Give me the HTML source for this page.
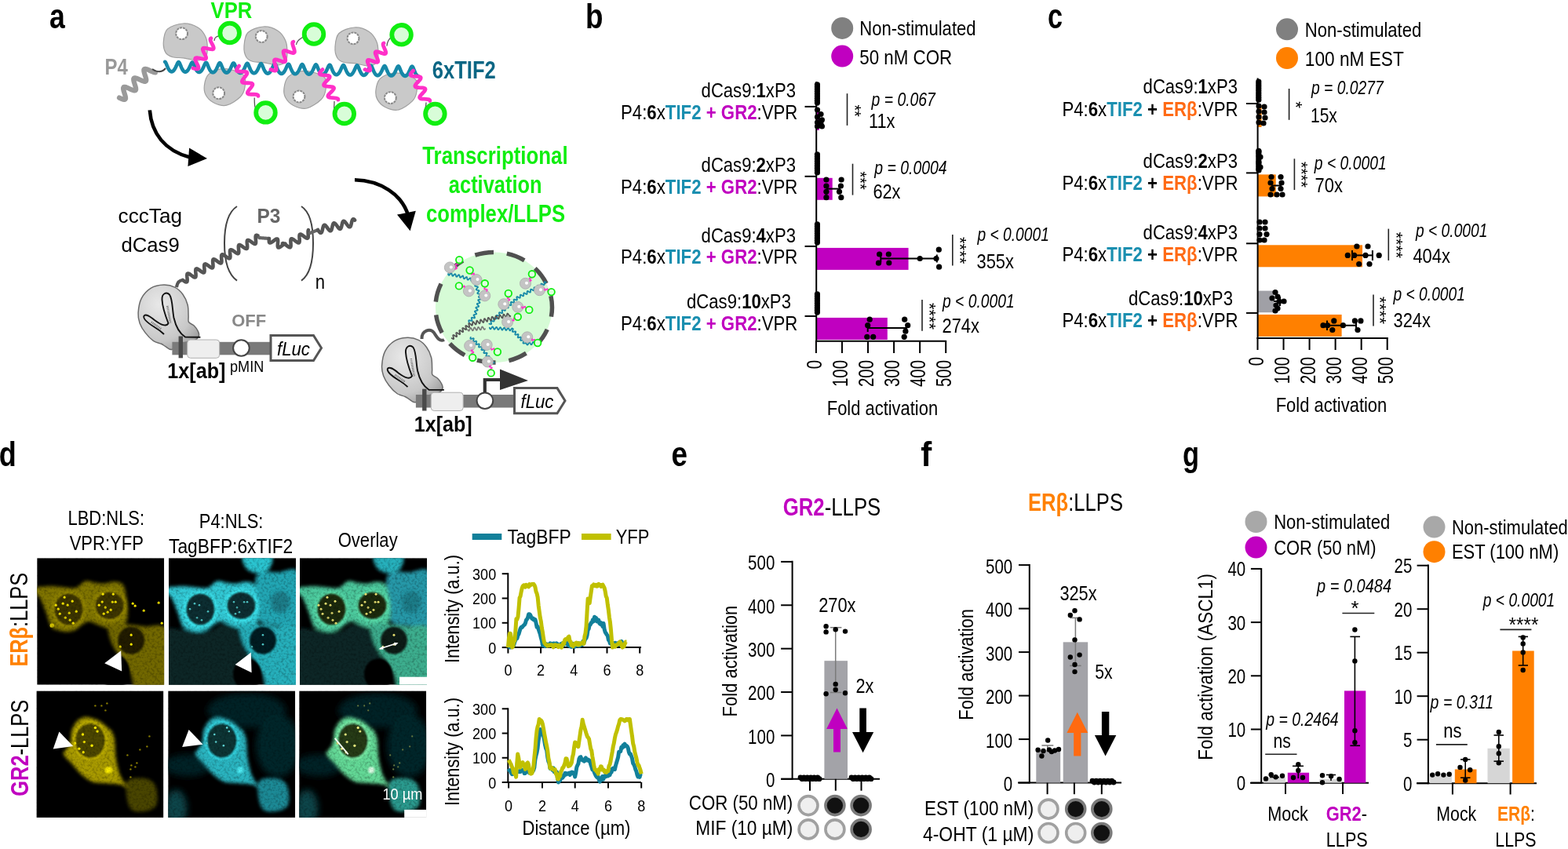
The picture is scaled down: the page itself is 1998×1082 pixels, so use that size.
<!DOCTYPE html>
<html><head><meta charset="utf-8"><title>Figure</title>
<style>
html,body{margin:0;padding:0;background:#fff;width:1998px;height:1082px;overflow:hidden}
svg{display:block;font-family:"Liberation Sans",Arial,sans-serif}
</style></head><body>
<svg width="1998" height="1082" viewBox="0 0 1998 1082">
<defs><filter id="b1" x="-20%" y="-20%" width="140%" height="140%"><feGaussianBlur stdDeviation="1.2"/></filter>
<filter id="b2" x="-20%" y="-20%" width="140%" height="140%"><feGaussianBlur stdDeviation="2.2"/></filter>
<filter id="b3" x="-30%" y="-30%" width="160%" height="160%"><feGaussianBlur stdDeviation="4"/></filter>
<filter id="bd" x="-50%" y="-50%" width="200%" height="200%"><feGaussianBlur stdDeviation="0.6"/></filter>
<filter id="grain" x="0" y="0" width="100%" height="100%"><feTurbulence type="fractalNoise" baseFrequency="0.32" numOctaves="2" seed="7" result="n"/><feColorMatrix in="n" type="matrix" values="0 0 0 0 0  0 0 0 0 0  0 0 0 0 0  2.2 0 0 0 -0.95" result="a"/><feComposite in="SourceGraphic" in2="a" operator="in"/></filter>
<radialGradient id="gblob" cx="0.4" cy="0.35" r="0.75"><stop offset="0" stop-color="#d6d6d6"/><stop offset="0.8" stop-color="#c4c4c4"/><stop offset="1" stop-color="#a8a8a8"/></radialGradient>
<radialGradient id="cas" cx="0.35" cy="0.3" r="0.8"><stop offset="0" stop-color="#e8e8e8"/><stop offset="0.7" stop-color="#c8c8c8"/><stop offset="1" stop-color="#a0a0a0"/></radialGradient></defs>
<rect width="1998" height="1082" fill="#fff"/>
<text transform="translate(746,36.4) scale(0.8371,1)" font-size="44" font-weight="bold">b</text>
<circle cx="1073.2" cy="35.9" r="14" fill="#808080"/>
<circle cx="1073.2" cy="71.6" r="14" fill="#c000c0"/>
<text transform="translate(1095.3,44.8) scale(0.8481,1)" font-size="26">Non-stimulated</text>
<text transform="translate(1095.3,82) scale(0.8589,1)" font-size="26">50 nM COR</text>
<text transform="translate(1014,123.8) translate(-120.4,0) scale(0.8500,1)" font-size="26">dCas9:<tspan font-weight="bold">1</tspan>xP3</text>
<text transform="translate(791,151.8) scale(0.8551,1)" font-size="26">P4:<tspan font-weight="bold">6</tspan>x<tspan fill="#1a8fb0" font-weight="bold">TIF2</tspan><tspan fill="#c000c0" font-weight="bold"> + </tspan><tspan fill="#c000c0" font-weight="bold">GR2</tspan>:VPR</text>
<text transform="translate(1014,218.9) translate(-120.4,0) scale(0.8500,1)" font-size="26">dCas9:<tspan font-weight="bold">2</tspan>xP3</text>
<text transform="translate(791,246.8) scale(0.8551,1)" font-size="26">P4:<tspan font-weight="bold">6</tspan>x<tspan fill="#1a8fb0" font-weight="bold">TIF2</tspan><tspan fill="#c000c0" font-weight="bold"> + </tspan><tspan fill="#c000c0" font-weight="bold">GR2</tspan>:VPR</text>
<text transform="translate(1014,308.7) translate(-120.4,0) scale(0.8500,1)" font-size="26">dCas9:<tspan font-weight="bold">4</tspan>xP3</text>
<text transform="translate(791,336.2) scale(0.8551,1)" font-size="26">P4:<tspan font-weight="bold">6</tspan>x<tspan fill="#1a8fb0" font-weight="bold">TIF2</tspan><tspan fill="#c000c0" font-weight="bold"> + </tspan><tspan fill="#c000c0" font-weight="bold">GR2</tspan>:VPR</text>
<text transform="translate(1008,392.7) translate(-133,0) scale(0.8520,1)" font-size="26">dCas9:<tspan font-weight="bold">10</tspan>xP3</text>
<text transform="translate(791,420.5) scale(0.8551,1)" font-size="26">P4:<tspan font-weight="bold">6</tspan>x<tspan fill="#1a8fb0" font-weight="bold">TIF2</tspan><tspan fill="#c000c0" font-weight="bold"> + </tspan><tspan fill="#c000c0" font-weight="bold">GR2</tspan>:VPR</text>
<rect x="1040.2" y="137.9" width="3.64" height="28" fill="#c000c0"/>
<rect x="1040.2" y="226.8" width="20.5" height="28" fill="#c000c0"/>
<rect x="1040.2" y="315.9" width="117.36" height="28" fill="#c000c0"/>
<rect x="1040.2" y="404.9" width="90.58" height="28" fill="#c000c0"/>
<line x1="1040.2" y1="104" x2="1040.2" y2="435.6" stroke="#000" stroke-width="2"/>
<line x1="1039.2" y1="434.7" x2="1206" y2="434.7" stroke="#000" stroke-width="2"/>
<line x1="1039.9" y1="434" x2="1039.9" y2="450" stroke="#000" stroke-width="2"/>
<text transform="translate(1047.1,458.8) rotate(-90) translate(-11.41,0) scale(0.7600,1)" font-size="27">0</text>
<line x1="1072.96" y1="434" x2="1072.96" y2="450" stroke="#000" stroke-width="2"/>
<text transform="translate(1080.16,458.8) rotate(-90) translate(-34.24,0) scale(0.7600,1)" font-size="27">100</text>
<line x1="1106.02" y1="434" x2="1106.02" y2="450" stroke="#000" stroke-width="2"/>
<text transform="translate(1113.22,458.8) rotate(-90) translate(-34.24,0) scale(0.7600,1)" font-size="27">200</text>
<line x1="1139.08" y1="434" x2="1139.08" y2="450" stroke="#000" stroke-width="2"/>
<text transform="translate(1146.28,458.8) rotate(-90) translate(-34.24,0) scale(0.7600,1)" font-size="27">300</text>
<line x1="1172.14" y1="434" x2="1172.14" y2="450" stroke="#000" stroke-width="2"/>
<text transform="translate(1179.34,458.8) rotate(-90) translate(-34.24,0) scale(0.7600,1)" font-size="27">400</text>
<line x1="1205.2" y1="434" x2="1205.2" y2="450" stroke="#000" stroke-width="2"/>
<text transform="translate(1212.4,458.8) rotate(-90) translate(-34.24,0) scale(0.7600,1)" font-size="27">500</text>
<line x1="1025.5" y1="135.9" x2="1040.2" y2="135.9" stroke="#000" stroke-width="2"/>
<line x1="1025.5" y1="224.8" x2="1040.2" y2="224.8" stroke="#000" stroke-width="2"/>
<line x1="1025.5" y1="313.9" x2="1040.2" y2="313.9" stroke="#000" stroke-width="2"/>
<line x1="1025.5" y1="402.9" x2="1040.2" y2="402.9" stroke="#000" stroke-width="2"/>
<text transform="translate(1124.5,528.7) translate(-70.7,0) scale(0.8600,1)" font-size="25.5">Fold activation</text>
<circle cx="1041.4" cy="107.9" r="3.6" fill="#000"/>
<circle cx="1041.4" cy="110.8" r="3.6" fill="#000"/>
<circle cx="1041.4" cy="113.7" r="3.6" fill="#000"/>
<circle cx="1041.4" cy="116.6" r="3.6" fill="#000"/>
<circle cx="1041.4" cy="119.5" r="3.6" fill="#000"/>
<circle cx="1041.4" cy="122.4" r="3.6" fill="#000"/>
<circle cx="1041.4" cy="125.3" r="3.6" fill="#000"/>
<circle cx="1041.4" cy="128.2" r="3.6" fill="#000"/>
<circle cx="1041.4" cy="131.1" r="3.6" fill="#000"/>
<circle cx="1041.4" cy="196.8" r="3.6" fill="#000"/>
<circle cx="1041.4" cy="199.7" r="3.6" fill="#000"/>
<circle cx="1041.4" cy="202.6" r="3.6" fill="#000"/>
<circle cx="1041.4" cy="205.5" r="3.6" fill="#000"/>
<circle cx="1041.4" cy="208.4" r="3.6" fill="#000"/>
<circle cx="1041.4" cy="211.3" r="3.6" fill="#000"/>
<circle cx="1041.4" cy="214.2" r="3.6" fill="#000"/>
<circle cx="1041.4" cy="217.1" r="3.6" fill="#000"/>
<circle cx="1041.4" cy="220" r="3.6" fill="#000"/>
<circle cx="1041.4" cy="285.9" r="3.6" fill="#000"/>
<circle cx="1041.4" cy="288.8" r="3.6" fill="#000"/>
<circle cx="1041.4" cy="291.7" r="3.6" fill="#000"/>
<circle cx="1041.4" cy="294.6" r="3.6" fill="#000"/>
<circle cx="1041.4" cy="297.5" r="3.6" fill="#000"/>
<circle cx="1041.4" cy="300.4" r="3.6" fill="#000"/>
<circle cx="1041.4" cy="303.3" r="3.6" fill="#000"/>
<circle cx="1041.4" cy="306.2" r="3.6" fill="#000"/>
<circle cx="1041.4" cy="309.1" r="3.6" fill="#000"/>
<circle cx="1041.4" cy="374.9" r="3.6" fill="#000"/>
<circle cx="1041.4" cy="377.8" r="3.6" fill="#000"/>
<circle cx="1041.4" cy="380.7" r="3.6" fill="#000"/>
<circle cx="1041.4" cy="383.6" r="3.6" fill="#000"/>
<circle cx="1041.4" cy="386.5" r="3.6" fill="#000"/>
<circle cx="1041.4" cy="389.4" r="3.6" fill="#000"/>
<circle cx="1041.4" cy="392.3" r="3.6" fill="#000"/>
<circle cx="1041.4" cy="395.2" r="3.6" fill="#000"/>
<circle cx="1041.4" cy="398.1" r="3.6" fill="#000"/>
<circle cx="1041.5" cy="140" r="3.6" fill="#000"/>
<circle cx="1046" cy="145.5" r="3.6" fill="#000"/>
<circle cx="1041.5" cy="149" r="3.6" fill="#000"/>
<circle cx="1047.4" cy="152.8" r="3.6" fill="#000"/>
<circle cx="1041.5" cy="156" r="3.6" fill="#000"/>
<circle cx="1046" cy="158" r="3.6" fill="#000"/>
<circle cx="1041.5" cy="161" r="3.6" fill="#000"/>
<circle cx="1047.4" cy="161" r="3.6" fill="#000"/>
<line x1="1042" y1="152" x2="1046" y2="152" stroke="#000" stroke-width="1.5"/>
<circle cx="1052.9" cy="229" r="3.6" fill="#000"/>
<circle cx="1052.9" cy="237" r="3.6" fill="#000"/>
<circle cx="1052.9" cy="244.3" r="3.6" fill="#000"/>
<circle cx="1052.9" cy="251.7" r="3.6" fill="#000"/>
<circle cx="1072.1" cy="229" r="3.6" fill="#000"/>
<circle cx="1071.4" cy="237" r="3.6" fill="#000"/>
<circle cx="1069.5" cy="244.3" r="3.6" fill="#000"/>
<circle cx="1071.8" cy="251.7" r="3.6" fill="#000"/>
<line x1="1053" y1="240.6" x2="1070" y2="240.6" stroke="#000" stroke-width="2"/>
<line x1="1070" y1="235.6" x2="1070" y2="245.6" stroke="#000" stroke-width="2"/>
<circle cx="1120.6" cy="324" r="3.6" fill="#000"/>
<circle cx="1132.3" cy="324" r="3.6" fill="#000"/>
<circle cx="1119.5" cy="335.2" r="3.6" fill="#000"/>
<circle cx="1132.8" cy="335" r="3.6" fill="#000"/>
<circle cx="1172.2" cy="329.5" r="3.6" fill="#000"/>
<circle cx="1193" cy="329.5" r="3.6" fill="#000"/>
<circle cx="1196.3" cy="318.2" r="3.6" fill="#000"/>
<circle cx="1196.6" cy="340.2" r="3.6" fill="#000"/>
<line x1="1122.3" y1="329.5" x2="1193.8" y2="329.5" stroke="#000" stroke-width="2"/>
<line x1="1122.3" y1="324.5" x2="1122.3" y2="334.5" stroke="#000" stroke-width="2"/>
<line x1="1193.8" y1="324.5" x2="1193.8" y2="334.5" stroke="#000" stroke-width="2"/>
<circle cx="1108.2" cy="407.2" r="3.6" fill="#000"/>
<circle cx="1105.7" cy="414.7" r="3.6" fill="#000"/>
<circle cx="1104.8" cy="429.3" r="3.6" fill="#000"/>
<circle cx="1112.7" cy="429.3" r="3.6" fill="#000"/>
<circle cx="1152.7" cy="407.2" r="3.6" fill="#000"/>
<circle cx="1156.7" cy="414.7" r="3.6" fill="#000"/>
<circle cx="1153.9" cy="422.2" r="3.6" fill="#000"/>
<circle cx="1152.2" cy="429.3" r="3.6" fill="#000"/>
<line x1="1105.7" y1="418" x2="1155" y2="418" stroke="#000" stroke-width="2"/>
<line x1="1105.7" y1="413" x2="1105.7" y2="423" stroke="#000" stroke-width="2"/>
<line x1="1155" y1="413" x2="1155" y2="423" stroke="#000" stroke-width="2"/>
<line x1="1079.5" y1="119.2" x2="1079.5" y2="159.9" stroke="#222" stroke-width="1.6"/>
<text transform="translate(1081.5,141.1) rotate(90) translate(-7.7,0) scale(0.8994,1)" font-size="22">**</text>
<text transform="translate(1110.6,135.3) scale(0.8420,1)" font-size="23" font-style="italic">p = 0.067</text>
<text transform="translate(1106.9,162.5) scale(0.8402,1)" font-size="26">11x</text>
<line x1="1086.5" y1="208.7" x2="1086.5" y2="248.6" stroke="#222" stroke-width="1.6"/>
<text transform="translate(1088.5,230.05) rotate(90) translate(-11.55,0) scale(0.8994,1)" font-size="22">***</text>
<text transform="translate(1114.3,221.6) scale(0.8450,1)" font-size="23" font-style="italic">p = 0.0004</text>
<text transform="translate(1112.4,252.7) scale(0.8373,1)" font-size="26">62x</text>
<line x1="1213.8" y1="299" x2="1213.8" y2="338.5" stroke="#222" stroke-width="1.6"/>
<text transform="translate(1216.3,319.25) rotate(90) translate(-17.25,0) scale(1.0074,1)" font-size="22">****</text>
<text transform="translate(1245.4,307.4) scale(0.8368,1)" font-size="23" font-style="italic">p &lt; 0.0001</text>
<text transform="translate(1244.5,342.3) scale(0.8425,1)" font-size="26">355x</text>
<line x1="1175" y1="382" x2="1175" y2="421.7" stroke="#222" stroke-width="1.6"/>
<text transform="translate(1177.2,403) rotate(90) translate(-17,0) scale(0.9928,1)" font-size="22">****</text>
<text transform="translate(1201,392) scale(0.8395,1)" font-size="23" font-style="italic">p &lt; 0.0001</text>
<text transform="translate(1200.5,424.3) scale(0.8425,1)" font-size="26">274x</text>
<text transform="translate(1335,36.4) scale(0.7764,1)" font-size="44" font-weight="bold">c</text>
<circle cx="1640" cy="37.3" r="14" fill="#808080"/>
<circle cx="1640" cy="74" r="14" fill="#ff8000"/>
<text transform="translate(1662.8,46.5) scale(0.8499,1)" font-size="26">Non-stimulated</text>
<text transform="translate(1662.8,83.5) scale(0.8719,1)" font-size="26">100 nM EST</text>
<text transform="translate(1577,119.1) translate(-120.4,0) scale(0.8500,1)" font-size="26">dCas9:<tspan font-weight="bold">1</tspan>xP3</text>
<text transform="translate(1353.4,147.7) scale(0.8550,1)" font-size="26">P4:<tspan font-weight="bold">6</tspan>x<tspan fill="#1a8fb0" font-weight="bold">TIF2</tspan><tspan font-weight="bold"> + </tspan><tspan fill="#ff6a14" font-weight="bold">ERβ</tspan>:VPR</text>
<text transform="translate(1577,213.8) translate(-120.4,0) scale(0.8500,1)" font-size="26">dCas9:<tspan font-weight="bold">2</tspan>xP3</text>
<text transform="translate(1353.4,242) scale(0.8550,1)" font-size="26">P4:<tspan font-weight="bold">6</tspan>x<tspan fill="#1a8fb0" font-weight="bold">TIF2</tspan><tspan font-weight="bold"> + </tspan><tspan fill="#ff6a14" font-weight="bold">ERβ</tspan>:VPR</text>
<text transform="translate(1577,305.2) translate(-120.4,0) scale(0.8500,1)" font-size="26">dCas9:<tspan font-weight="bold">4</tspan>xP3</text>
<text transform="translate(1353.4,332.7) scale(0.8550,1)" font-size="26">P4:<tspan font-weight="bold">6</tspan>x<tspan fill="#1a8fb0" font-weight="bold">TIF2</tspan><tspan font-weight="bold"> + </tspan><tspan fill="#ff6a14" font-weight="bold">ERβ</tspan>:VPR</text>
<text transform="translate(1571,389.1) translate(-133,0) scale(0.8520,1)" font-size="26">dCas9:<tspan font-weight="bold">10</tspan>xP3</text>
<text transform="translate(1353.4,417.4) scale(0.8550,1)" font-size="26">P4:<tspan font-weight="bold">6</tspan>x<tspan fill="#1a8fb0" font-weight="bold">TIF2</tspan><tspan font-weight="bold"> + </tspan><tspan fill="#ff6a14" font-weight="bold">ERβ</tspan>:VPR</text>
<rect x="1602.6" y="134" width="4.95" height="28" fill="#ff8000"/>
<rect x="1602.6" y="222.4" width="23.12" height="28" fill="#ff8000"/>
<rect x="1602.6" y="312.3" width="133.44" height="28" fill="#ff8000"/>
<rect x="1602.6" y="400.9" width="107.02" height="28" fill="#ff8000"/>
<rect x="1602.6" y="370.6" width="20.7" height="27.6" fill="#a0a0a6"/>
<line x1="1602.6" y1="99.4" x2="1602.6" y2="432" stroke="#000" stroke-width="2"/>
<line x1="1601.6" y1="431" x2="1768.5" y2="431" stroke="#000" stroke-width="2"/>
<line x1="1602.5" y1="430" x2="1602.5" y2="446" stroke="#000" stroke-width="2"/>
<text transform="translate(1609.9,454.9) rotate(-90) translate(-11.41,0) scale(0.7600,1)" font-size="27">0</text>
<line x1="1635.54" y1="430" x2="1635.54" y2="446" stroke="#000" stroke-width="2"/>
<text transform="translate(1642.94,454.9) rotate(-90) translate(-34.24,0) scale(0.7600,1)" font-size="27">100</text>
<line x1="1668.58" y1="430" x2="1668.58" y2="446" stroke="#000" stroke-width="2"/>
<text transform="translate(1675.98,454.9) rotate(-90) translate(-34.24,0) scale(0.7600,1)" font-size="27">200</text>
<line x1="1701.62" y1="430" x2="1701.62" y2="446" stroke="#000" stroke-width="2"/>
<text transform="translate(1709.02,454.9) rotate(-90) translate(-34.24,0) scale(0.7600,1)" font-size="27">300</text>
<line x1="1734.66" y1="430" x2="1734.66" y2="446" stroke="#000" stroke-width="2"/>
<text transform="translate(1742.06,454.9) rotate(-90) translate(-34.24,0) scale(0.7600,1)" font-size="27">400</text>
<line x1="1767.7" y1="430" x2="1767.7" y2="446" stroke="#000" stroke-width="2"/>
<text transform="translate(1775.1,454.9) rotate(-90) translate(-34.24,0) scale(0.7600,1)" font-size="27">500</text>
<line x1="1588" y1="132" x2="1602.6" y2="132" stroke="#000" stroke-width="2"/>
<line x1="1588" y1="220.4" x2="1602.6" y2="220.4" stroke="#000" stroke-width="2"/>
<line x1="1588" y1="310.3" x2="1602.6" y2="310.3" stroke="#000" stroke-width="2"/>
<line x1="1588" y1="398.9" x2="1602.6" y2="398.9" stroke="#000" stroke-width="2"/>
<text transform="translate(1696.5,524.8) translate(-70.85,0) scale(0.8618,1)" font-size="25.5">Fold activation</text>
<circle cx="1603.8" cy="104" r="3.6" fill="#000"/>
<circle cx="1603.8" cy="106.9" r="3.6" fill="#000"/>
<circle cx="1603.8" cy="109.8" r="3.6" fill="#000"/>
<circle cx="1603.8" cy="112.7" r="3.6" fill="#000"/>
<circle cx="1603.8" cy="115.6" r="3.6" fill="#000"/>
<circle cx="1603.8" cy="118.5" r="3.6" fill="#000"/>
<circle cx="1603.8" cy="121.4" r="3.6" fill="#000"/>
<circle cx="1603.8" cy="124.3" r="3.6" fill="#000"/>
<circle cx="1603.8" cy="127.2" r="3.6" fill="#000"/>
<circle cx="1603.8" cy="192.4" r="3.6" fill="#000"/>
<circle cx="1603.8" cy="195.3" r="3.6" fill="#000"/>
<circle cx="1603.8" cy="198.2" r="3.6" fill="#000"/>
<circle cx="1603.8" cy="201.1" r="3.6" fill="#000"/>
<circle cx="1603.8" cy="204" r="3.6" fill="#000"/>
<circle cx="1603.8" cy="206.9" r="3.6" fill="#000"/>
<circle cx="1603.8" cy="209.8" r="3.6" fill="#000"/>
<circle cx="1603.8" cy="212.7" r="3.6" fill="#000"/>
<circle cx="1603.8" cy="215.6" r="3.6" fill="#000"/>
<circle cx="1604" cy="135" r="3.6" fill="#000"/>
<circle cx="1611" cy="136" r="3.6" fill="#000"/>
<circle cx="1604" cy="142" r="3.6" fill="#000"/>
<circle cx="1611" cy="143" r="3.6" fill="#000"/>
<circle cx="1604" cy="149" r="3.6" fill="#000"/>
<circle cx="1612" cy="150" r="3.6" fill="#000"/>
<circle cx="1604" cy="156" r="3.6" fill="#000"/>
<circle cx="1610" cy="157" r="3.6" fill="#000"/>
<circle cx="1604" cy="193" r="3.6" fill="#000"/>
<circle cx="1606" cy="200" r="3.6" fill="#000"/>
<circle cx="1604" cy="207" r="3.6" fill="#000"/>
<circle cx="1606" cy="213" r="3.6" fill="#000"/>
<circle cx="1604" cy="217" r="3.6" fill="#000"/>
<circle cx="1620" cy="225.5" r="3.6" fill="#000"/>
<circle cx="1632" cy="225.5" r="3.6" fill="#000"/>
<circle cx="1619" cy="233" r="3.6" fill="#000"/>
<circle cx="1633" cy="233" r="3.6" fill="#000"/>
<circle cx="1621" cy="240.5" r="3.6" fill="#000"/>
<circle cx="1632" cy="240.5" r="3.6" fill="#000"/>
<circle cx="1619" cy="248" r="3.6" fill="#000"/>
<circle cx="1627" cy="248" r="3.6" fill="#000"/>
<circle cx="1634" cy="248" r="3.6" fill="#000"/>
<line x1="1620" y1="236.5" x2="1632" y2="236.5" stroke="#000" stroke-width="2"/>
<line x1="1632" y1="232" x2="1632" y2="241" stroke="#000" stroke-width="2"/>
<circle cx="1605" cy="283" r="3.6" fill="#000"/>
<circle cx="1612" cy="283" r="3.6" fill="#000"/>
<circle cx="1605" cy="291" r="3.6" fill="#000"/>
<circle cx="1612" cy="291" r="3.6" fill="#000"/>
<circle cx="1605" cy="298.6" r="3.6" fill="#000"/>
<circle cx="1614" cy="298.6" r="3.6" fill="#000"/>
<circle cx="1605" cy="306" r="3.6" fill="#000"/>
<circle cx="1611" cy="306" r="3.6" fill="#000"/>
<circle cx="1728.9" cy="314" r="3.6" fill="#000"/>
<circle cx="1743" cy="314" r="3.6" fill="#000"/>
<circle cx="1717.3" cy="325.4" r="3.6" fill="#000"/>
<circle cx="1725.6" cy="325.4" r="3.6" fill="#000"/>
<circle cx="1740" cy="325.4" r="3.6" fill="#000"/>
<circle cx="1757.2" cy="325.4" r="3.6" fill="#000"/>
<circle cx="1731.7" cy="336.5" r="3.6" fill="#000"/>
<circle cx="1745" cy="336.5" r="3.6" fill="#000"/>
<line x1="1723" y1="325.4" x2="1748.9" y2="325.4" stroke="#000" stroke-width="2"/>
<line x1="1723" y1="319" x2="1723" y2="332" stroke="#000" stroke-width="2"/>
<line x1="1748.9" y1="319" x2="1748.9" y2="332" stroke="#000" stroke-width="2"/>
<circle cx="1625" cy="372.5" r="3.6" fill="#000"/>
<circle cx="1628" cy="378" r="3.6" fill="#000"/>
<circle cx="1621" cy="380" r="3.6" fill="#000"/>
<circle cx="1630" cy="384" r="3.6" fill="#000"/>
<circle cx="1636" cy="384" r="3.6" fill="#000"/>
<circle cx="1626" cy="389" r="3.6" fill="#000"/>
<circle cx="1628" cy="393" r="3.6" fill="#000"/>
<circle cx="1625" cy="396" r="3.6" fill="#000"/>
<line x1="1623" y1="384" x2="1631" y2="384" stroke="#000" stroke-width="2"/>
<line x1="1631" y1="378" x2="1631" y2="390" stroke="#000" stroke-width="2"/>
<circle cx="1686" cy="414.7" r="3.6" fill="#000"/>
<circle cx="1691.5" cy="414.7" r="3.6" fill="#000"/>
<circle cx="1699.8" cy="408.9" r="3.6" fill="#000"/>
<circle cx="1697.8" cy="420.5" r="3.6" fill="#000"/>
<circle cx="1711.4" cy="414.7" r="3.6" fill="#000"/>
<circle cx="1726.4" cy="408.9" r="3.6" fill="#000"/>
<circle cx="1733.9" cy="408.9" r="3.6" fill="#000"/>
<circle cx="1730" cy="420.5" r="3.6" fill="#000"/>
<line x1="1691" y1="414.7" x2="1728" y2="414.7" stroke="#000" stroke-width="2"/>
<line x1="1691" y1="408.5" x2="1691" y2="421" stroke="#000" stroke-width="2"/>
<line x1="1728" y1="408.5" x2="1728" y2="421" stroke="#000" stroke-width="2"/>
<line x1="1642.6" y1="113" x2="1642.6" y2="152.8" stroke="#222" stroke-width="1.6"/>
<text transform="translate(1644.3,133.5) rotate(90) translate(-4.5,0) scale(1.0512,1)" font-size="22">*</text>
<text transform="translate(1670.9,119.8) scale(0.8404,1)" font-size="23" font-style="italic">p = 0.0277</text>
<text transform="translate(1670,156) scale(0.8087,1)" font-size="26">15x</text>
<line x1="1649.4" y1="202.3" x2="1649.4" y2="242" stroke="#222" stroke-width="1.6"/>
<text transform="translate(1651.3,222.5) rotate(90) translate(-16.5,0) scale(0.9636,1)" font-size="22">****</text>
<text transform="translate(1674.8,215.6) scale(0.8404,1)" font-size="23" font-style="italic">p &lt; 0.0001</text>
<text transform="translate(1675.6,244.7) scale(0.8445,1)" font-size="26">70x</text>
<line x1="1769.3" y1="291.6" x2="1769.3" y2="331.9" stroke="#222" stroke-width="1.6"/>
<text transform="translate(1772.1,312.4) rotate(90) translate(-16.6,0) scale(0.9695,1)" font-size="22">****</text>
<text transform="translate(1804,302) scale(0.8368,1)" font-size="23" font-style="italic">p &lt; 0.0001</text>
<text transform="translate(1800.4,334.9) scale(0.8443,1)" font-size="26">404x</text>
<line x1="1750" y1="375.6" x2="1750" y2="415.6" stroke="#222" stroke-width="1.6"/>
<text transform="translate(1751.3,395.5) rotate(90) translate(-17.5,0) scale(1.0220,1)" font-size="22">****</text>
<text transform="translate(1775.5,383) scale(0.8368,1)" font-size="23" font-style="italic">p &lt; 0.0001</text>
<text transform="translate(1775.5,417.2) scale(0.8425,1)" font-size="26">324x</text>
<text transform="translate(855.5,593.6) scale(0.8377,1)" font-size="44" font-weight="bold">e</text>
<text transform="translate(997.7,656.7) scale(0.8448,1)" font-size="30.5"><tspan fill="#c000c0" font-weight="bold">GR2</tspan>-LLPS</text>
<line x1="1009.6" y1="714.8" x2="1009.6" y2="993.8" stroke="#000" stroke-width="2"/>
<line x1="995.1" y1="992.8" x2="1009.6" y2="992.8" stroke="#000" stroke-width="2"/>
<text transform="translate(987.3,1003.2) translate(-11.4,0) scale(0.8200,1)" font-size="25">0</text>
<line x1="995.1" y1="937.42" x2="1009.6" y2="937.42" stroke="#000" stroke-width="2"/>
<text transform="translate(987.3,947.82) translate(-34.2,0) scale(0.8200,1)" font-size="25">100</text>
<line x1="995.1" y1="882.04" x2="1009.6" y2="882.04" stroke="#000" stroke-width="2"/>
<text transform="translate(987.3,892.44) translate(-34.2,0) scale(0.8200,1)" font-size="25">200</text>
<line x1="995.1" y1="826.66" x2="1009.6" y2="826.66" stroke="#000" stroke-width="2"/>
<text transform="translate(987.3,837.06) translate(-34.2,0) scale(0.8200,1)" font-size="25">300</text>
<line x1="995.1" y1="771.28" x2="1009.6" y2="771.28" stroke="#000" stroke-width="2"/>
<text transform="translate(987.3,781.68) translate(-34.2,0) scale(0.8200,1)" font-size="25">400</text>
<line x1="995.1" y1="715.9" x2="1009.6" y2="715.9" stroke="#000" stroke-width="2"/>
<text transform="translate(987.3,726.3) translate(-34.2,0) scale(0.8200,1)" font-size="25">500</text>
<line x1="995.2" y1="992.8" x2="1121" y2="992.8" stroke="#000" stroke-width="2"/>
<rect x="1050.4" y="842.17" width="29.6" height="150.63" fill="#a3a3a8"/>
<line x1="1032" y1="992.8" x2="1032" y2="1007.7" stroke="#000" stroke-width="2"/>
<line x1="1064.8" y1="992.8" x2="1064.8" y2="1007.7" stroke="#000" stroke-width="2"/>
<line x1="1097.5" y1="992.8" x2="1097.5" y2="1007.7" stroke="#000" stroke-width="2"/>
<line x1="1064.7" y1="799.7" x2="1064.7" y2="882.5" stroke="#7a7a7a" stroke-width="1.5"/>
<line x1="1058" y1="799.7" x2="1072.4" y2="799.7" stroke="#7a7a7a" stroke-width="1.5"/>
<line x1="1058" y1="882.5" x2="1072.4" y2="882.5" stroke="#7a7a7a" stroke-width="1.5"/>
<circle cx="1052.6" cy="798.3" r="3.2" fill="#000"/>
<circle cx="1052.6" cy="805.4" r="3.2" fill="#000"/>
<circle cx="1064.7" cy="802.3" r="3.2" fill="#000"/>
<circle cx="1077" cy="804.6" r="3.2" fill="#000"/>
<circle cx="1064.7" cy="871.9" r="3.2" fill="#000"/>
<circle cx="1064.7" cy="879" r="3.2" fill="#000"/>
<circle cx="1052.6" cy="884.2" r="3.2" fill="#000"/>
<circle cx="1077" cy="883.3" r="3.2" fill="#000"/>
<circle cx="1020" cy="990.9" r="3.4" fill="#000"/>
<circle cx="1022.18" cy="992.7" r="3.4" fill="#000"/>
<circle cx="1024.36" cy="990.9" r="3.4" fill="#000"/>
<circle cx="1026.55" cy="992.7" r="3.4" fill="#000"/>
<circle cx="1028.73" cy="990.9" r="3.4" fill="#000"/>
<circle cx="1030.91" cy="992.7" r="3.4" fill="#000"/>
<circle cx="1033.09" cy="990.9" r="3.4" fill="#000"/>
<circle cx="1035.27" cy="992.7" r="3.4" fill="#000"/>
<circle cx="1037.45" cy="990.9" r="3.4" fill="#000"/>
<circle cx="1039.64" cy="992.7" r="3.4" fill="#000"/>
<circle cx="1041.82" cy="990.9" r="3.4" fill="#000"/>
<circle cx="1044" cy="992.7" r="3.4" fill="#000"/>
<circle cx="1085" cy="990.9" r="3.4" fill="#000"/>
<circle cx="1087.27" cy="992.7" r="3.4" fill="#000"/>
<circle cx="1089.55" cy="990.9" r="3.4" fill="#000"/>
<circle cx="1091.82" cy="992.7" r="3.4" fill="#000"/>
<circle cx="1094.09" cy="990.9" r="3.4" fill="#000"/>
<circle cx="1096.36" cy="992.7" r="3.4" fill="#000"/>
<circle cx="1098.64" cy="990.9" r="3.4" fill="#000"/>
<circle cx="1100.91" cy="992.7" r="3.4" fill="#000"/>
<circle cx="1103.18" cy="990.9" r="3.4" fill="#000"/>
<circle cx="1105.45" cy="992.7" r="3.4" fill="#000"/>
<circle cx="1107.73" cy="990.9" r="3.4" fill="#000"/>
<circle cx="1110" cy="992.7" r="3.4" fill="#000"/>
<text transform="translate(1066.8,780.2) translate(-23.65,0) scale(0.8389,1)" font-size="26">270x</text>
<text transform="translate(1090.5,882.5) scale(0.8339,1)" font-size="26">2x</text>
<path d="M1066.5,902.5 L1079.9,929.1 L1071,929.1 L1071,958.6 L1062,958.6 L1062,929.1 L1053.1,929.1 Z" fill="#c000c0"/>
<path d="M1095.3,902.5 L1103.9,902.5 L1103.9,932.9 L1113.2,932.9 L1099.6,959.2 L1086,932.9 L1095.3,932.9 Z" fill="#000"/>
<text transform="translate(938.6,842.5) rotate(-90) translate(-70.9,0) scale(0.8624,1)" font-size="25.5">Fold activation</text>
<text transform="translate(1010.3,1031.8) translate(-132.5,0) scale(0.8572,1)" font-size="26">COR (50 nM)</text>
<text transform="translate(1010.3,1064.3) translate(-124,0) scale(0.8727,1)" font-size="26">MIF (10 µM)</text>
<circle cx="1030" cy="1026.6" r="12" fill="#efefef" stroke="#a0a0a0" stroke-width="3.6"/>
<circle cx="1030" cy="1056.9" r="12" fill="#efefef" stroke="#a0a0a0" stroke-width="3.6"/>
<circle cx="1063.9" cy="1026.6" r="12" fill="#111" stroke="#7a7a7a" stroke-width="3.6"/>
<circle cx="1063.9" cy="1056.9" r="12" fill="#efefef" stroke="#a0a0a0" stroke-width="3.6"/>
<circle cx="1097.1" cy="1026.6" r="12" fill="#111" stroke="#7a7a7a" stroke-width="3.6"/>
<circle cx="1097.1" cy="1056.9" r="12" fill="#111" stroke="#7a7a7a" stroke-width="3.6"/>
<text transform="translate(1173.3,593.6) scale(0.9555,1)" font-size="44" font-weight="bold">f</text>
<text transform="translate(1310,650.7) scale(0.8399,1)" font-size="30.5"><tspan fill="#ff8000" font-weight="bold">ERβ</tspan>:LLPS</text>
<line x1="1311.8" y1="719.1" x2="1311.8" y2="998.6" stroke="#000" stroke-width="2"/>
<line x1="1298" y1="997.6" x2="1311.8" y2="997.6" stroke="#000" stroke-width="2"/>
<text transform="translate(1290.2,1008) translate(-11.4,0) scale(0.8200,1)" font-size="25">0</text>
<line x1="1298" y1="942.1" x2="1311.8" y2="942.1" stroke="#000" stroke-width="2"/>
<text transform="translate(1290.2,952.5) translate(-34.2,0) scale(0.8200,1)" font-size="25">100</text>
<line x1="1298" y1="886.6" x2="1311.8" y2="886.6" stroke="#000" stroke-width="2"/>
<text transform="translate(1290.2,897) translate(-34.2,0) scale(0.8200,1)" font-size="25">200</text>
<line x1="1298" y1="831.1" x2="1311.8" y2="831.1" stroke="#000" stroke-width="2"/>
<text transform="translate(1290.2,841.5) translate(-34.2,0) scale(0.8200,1)" font-size="25">300</text>
<line x1="1298" y1="775.6" x2="1311.8" y2="775.6" stroke="#000" stroke-width="2"/>
<text transform="translate(1290.2,786) translate(-34.2,0) scale(0.8200,1)" font-size="25">400</text>
<line x1="1298" y1="720.1" x2="1311.8" y2="720.1" stroke="#000" stroke-width="2"/>
<text transform="translate(1290.2,730.5) translate(-34.2,0) scale(0.8200,1)" font-size="25">500</text>
<line x1="1297" y1="997.6" x2="1429" y2="997.6" stroke="#000" stroke-width="2"/>
<rect x="1320.3" y="955.98" width="30.9" height="41.63" fill="#a3a3a8"/>
<rect x="1354.7" y="818.34" width="31.5" height="179.27" fill="#a3a3a8"/>
<line x1="1334.6" y1="997.6" x2="1334.6" y2="1012.2" stroke="#000" stroke-width="2"/>
<line x1="1368.9" y1="997.6" x2="1368.9" y2="1012.2" stroke="#000" stroke-width="2"/>
<line x1="1403.8" y1="997.6" x2="1403.8" y2="1012.2" stroke="#000" stroke-width="2"/>
<line x1="1370.4" y1="787.4" x2="1370.4" y2="848.4" stroke="#7a7a7a" stroke-width="1.5"/>
<line x1="1363.2" y1="787.4" x2="1377.6" y2="787.4" stroke="#7a7a7a" stroke-width="1.5"/>
<line x1="1363.2" y1="848.4" x2="1377.6" y2="848.4" stroke="#7a7a7a" stroke-width="1.5"/>
<circle cx="1369.5" cy="778.2" r="3.2" fill="#000"/>
<circle cx="1363.8" cy="784" r="3.2" fill="#000"/>
<circle cx="1375.6" cy="789.4" r="3.2" fill="#000"/>
<circle cx="1369.5" cy="815.4" r="3.2" fill="#000"/>
<circle cx="1363.8" cy="837.5" r="3.2" fill="#000"/>
<circle cx="1375.6" cy="834.6" r="3.2" fill="#000"/>
<circle cx="1369.5" cy="847" r="3.2" fill="#000"/>
<circle cx="1369.5" cy="856.1" r="3.2" fill="#000"/>
<line x1="1327.4" y1="950" x2="1342.3" y2="950" stroke="#7a7a7a" stroke-width="1.5"/>
<line x1="1334.8" y1="950" x2="1334.8" y2="958" stroke="#7a7a7a" stroke-width="1.5"/>
<circle cx="1335.2" cy="943.5" r="3.2" fill="#000"/>
<circle cx="1322.6" cy="955.8" r="3.2" fill="#000"/>
<circle cx="1329.5" cy="957" r="3.2" fill="#000"/>
<circle cx="1337" cy="955.5" r="3.2" fill="#000"/>
<circle cx="1344" cy="956.5" r="3.2" fill="#000"/>
<circle cx="1349" cy="955" r="3.2" fill="#000"/>
<circle cx="1327.4" cy="963.5" r="3.2" fill="#000"/>
<circle cx="1340" cy="958" r="3.2" fill="#000"/>
<circle cx="1392" cy="995.2" r="3.4" fill="#000"/>
<circle cx="1394.45" cy="997" r="3.4" fill="#000"/>
<circle cx="1396.91" cy="995.2" r="3.4" fill="#000"/>
<circle cx="1399.36" cy="997" r="3.4" fill="#000"/>
<circle cx="1401.82" cy="995.2" r="3.4" fill="#000"/>
<circle cx="1404.27" cy="997" r="3.4" fill="#000"/>
<circle cx="1406.73" cy="995.2" r="3.4" fill="#000"/>
<circle cx="1409.18" cy="997" r="3.4" fill="#000"/>
<circle cx="1411.64" cy="995.2" r="3.4" fill="#000"/>
<circle cx="1414.09" cy="997" r="3.4" fill="#000"/>
<circle cx="1416.55" cy="995.2" r="3.4" fill="#000"/>
<circle cx="1419" cy="997" r="3.4" fill="#000"/>
<text transform="translate(1374,764.5) translate(-23.6,0) scale(0.8372,1)" font-size="26">325x</text>
<text transform="translate(1395.3,865.3) scale(0.8157,1)" font-size="26">5x</text>
<path d="M1372.8,907.7 L1386.2,934 L1377.4,934 L1377.4,963.5 L1368.2,963.5 L1368.2,934 L1359.4,934 Z" fill="#ff6a10"/>
<path d="M1403.9,907.1 L1413.3,907.1 L1413.3,936.9 L1422.3,936.9 L1408.6,963.5 L1394.9,936.9 L1403.9,936.9 Z" fill="#000"/>
<text transform="translate(1239.6,846.8) rotate(-90) translate(-70.85,0) scale(0.8618,1)" font-size="25.5">Fold activation</text>
<text transform="translate(1317.3,1038.5) translate(-139.2,0) scale(0.8627,1)" font-size="26">EST (100 nM)</text>
<text transform="translate(1317.3,1071.6) translate(-141.3,0) scale(0.8810,1)" font-size="26">4-OHT (1 µM)</text>
<circle cx="1336" cy="1031.1" r="12" fill="#efefef" stroke="#a0a0a0" stroke-width="3.6"/>
<circle cx="1336" cy="1061.5" r="12" fill="#efefef" stroke="#a0a0a0" stroke-width="3.6"/>
<circle cx="1370.7" cy="1031.1" r="12" fill="#111" stroke="#7a7a7a" stroke-width="3.6"/>
<circle cx="1370.7" cy="1061.5" r="12" fill="#efefef" stroke="#a0a0a0" stroke-width="3.6"/>
<circle cx="1403.8" cy="1031.1" r="12" fill="#111" stroke="#7a7a7a" stroke-width="3.6"/>
<circle cx="1403.8" cy="1061.5" r="12" fill="#111" stroke="#7a7a7a" stroke-width="3.6"/>
<text transform="translate(1507,593.6) scale(0.7813,1)" font-size="44" font-weight="bold">g</text>
<circle cx="1600.5" cy="665" r="14" fill="#a8a8a8"/>
<circle cx="1600.5" cy="697.6" r="14" fill="#c000c0"/>
<text transform="translate(1623.2,674.3) scale(0.8464,1)" font-size="26">Non-stimulated</text>
<text transform="translate(1623.2,706.6) scale(0.8442,1)" font-size="26">COR (50 nM)</text>
<circle cx="1827.5" cy="671.6" r="14" fill="#a8a8a8"/>
<circle cx="1827.5" cy="703.2" r="14" fill="#ff8000"/>
<text transform="translate(1849.9,680.6) scale(0.8464,1)" font-size="26">Non-stimulated</text>
<text transform="translate(1849.9,711.6) scale(0.8453,1)" font-size="26">EST (100 nM)</text>
<line x1="1607.2" y1="723.9" x2="1607.2" y2="998.7" stroke="#000" stroke-width="2"/>
<line x1="1593.9" y1="997.7" x2="1607.2" y2="997.7" stroke="#000" stroke-width="2"/>
<text transform="translate(1587.2,1007.1) translate(-11.4,0) scale(0.8200,1)" font-size="25">0</text>
<line x1="1593.9" y1="929.5" x2="1607.2" y2="929.5" stroke="#000" stroke-width="2"/>
<text transform="translate(1587.2,938.9) translate(-22.8,0) scale(0.8200,1)" font-size="25">10</text>
<line x1="1593.9" y1="861.3" x2="1607.2" y2="861.3" stroke="#000" stroke-width="2"/>
<text transform="translate(1587.2,870.7) translate(-22.8,0) scale(0.8200,1)" font-size="25">20</text>
<line x1="1593.9" y1="793.1" x2="1607.2" y2="793.1" stroke="#000" stroke-width="2"/>
<text transform="translate(1587.2,802.5) translate(-22.8,0) scale(0.8200,1)" font-size="25">30</text>
<line x1="1593.9" y1="724.9" x2="1607.2" y2="724.9" stroke="#000" stroke-width="2"/>
<text transform="translate(1587.2,734.3) translate(-22.8,0) scale(0.8200,1)" font-size="25">40</text>
<line x1="1593" y1="997.7" x2="1744" y2="997.7" stroke="#000" stroke-width="2"/>
<rect x="1609.9" y="990.88" width="28.2" height="6.82" fill="#d6d6d6"/>
<rect x="1640.8" y="984.74" width="27.3" height="12.96" fill="#c000c0"/>
<rect x="1681.4" y="992.93" width="28.3" height="4.77" fill="#d6d6d6"/>
<rect x="1713" y="880.4" width="27.3" height="117.3" fill="#c000c0"/>
<line x1="1638" y1="997.7" x2="1638" y2="1011.9" stroke="#000" stroke-width="2"/>
<line x1="1711" y1="997.7" x2="1711" y2="1011.9" stroke="#000" stroke-width="2"/>
<circle cx="1613" cy="992.4" r="3.2" fill="#000"/>
<circle cx="1619.7" cy="987.2" r="3.2" fill="#000"/>
<circle cx="1625.6" cy="990.3" r="3.2" fill="#000"/>
<circle cx="1634" cy="988.7" r="3.2" fill="#000"/>
<line x1="1618" y1="990.5" x2="1630" y2="990.5" stroke="#000" stroke-width="1.6"/>
<circle cx="1654.3" cy="974.2" r="3.2" fill="#000"/>
<circle cx="1654.3" cy="982" r="3.2" fill="#000"/>
<circle cx="1648" cy="991" r="3.2" fill="#000"/>
<circle cx="1660" cy="991" r="3.2" fill="#000"/>
<line x1="1654.3" y1="976.3" x2="1654.3" y2="992" stroke="#000" stroke-width="1.6"/>
<line x1="1647" y1="976.3" x2="1661" y2="976.3" stroke="#000" stroke-width="1.6"/>
<circle cx="1685" cy="988.2" r="3.2" fill="#000"/>
<circle cx="1685" cy="997.2" r="3.2" fill="#000"/>
<circle cx="1696.1" cy="989.3" r="3.2" fill="#000"/>
<circle cx="1706.6" cy="993" r="3.2" fill="#000"/>
<line x1="1690" y1="987.5" x2="1702" y2="987.5" stroke="#000" stroke-width="1.6"/>
<line x1="1696" y1="987.5" x2="1696" y2="995" stroke="#000" stroke-width="1.6"/>
<line x1="1726.4" y1="811.4" x2="1726.4" y2="950.3" stroke="#000" stroke-width="1.6"/>
<line x1="1720.4" y1="811.4" x2="1733" y2="811.4" stroke="#000" stroke-width="1.6"/>
<line x1="1720.4" y1="950.3" x2="1733" y2="950.3" stroke="#000" stroke-width="1.6"/>
<circle cx="1726.4" cy="802.5" r="3.2" fill="#000"/>
<circle cx="1726.4" cy="842.4" r="3.2" fill="#000"/>
<circle cx="1726.4" cy="931.3" r="3.2" fill="#000"/>
<circle cx="1726.4" cy="946.3" r="3.2" fill="#000"/>
<line x1="1612.2" y1="961.2" x2="1652.5" y2="961.2" stroke="#222" stroke-width="1.6"/>
<text transform="translate(1633.6,952.9) translate(-11.15,0) scale(0.8121,1)" font-size="26">ns</text>
<text transform="translate(1613.2,924.6) scale(0.8459,1)" font-size="23" font-style="italic">p = 0.2464</text>
<line x1="1710.4" y1="781.5" x2="1751.3" y2="781.5" stroke="#222" stroke-width="1.6"/>
<text transform="translate(1726.4,783.5) translate(-5,0) scale(0.9883,1)" font-size="26">*</text>
<text transform="translate(1678.1,754.8) scale(0.8688,1)" font-size="23" font-style="italic">p = 0.0484</text>
<text transform="translate(1545,849.8) rotate(-90) translate(-119,0) scale(0.8505,1)" font-size="26.5">Fold activation (ASCL1)</text>
<text transform="translate(1641,1046.2) translate(-25.85,0) scale(0.8323,1)" font-size="26">Mock</text>
<text transform="translate(1689.8,1046.2) scale(0.8419,1)" font-size="26"><tspan fill="#c000c0" font-weight="bold">GR2</tspan>-</text>
<text transform="translate(1689.8,1079.2) scale(0.8333,1)" font-size="26">LLPS</text>
<line x1="1819.9" y1="719.6" x2="1819.9" y2="999.2" stroke="#000" stroke-width="2"/>
<line x1="1805.6" y1="998.2" x2="1819.9" y2="998.2" stroke="#000" stroke-width="2"/>
<text transform="translate(1799.3,1007.6) translate(-11.4,0) scale(0.8200,1)" font-size="25">0</text>
<line x1="1805.6" y1="942.7" x2="1819.9" y2="942.7" stroke="#000" stroke-width="2"/>
<text transform="translate(1799.3,952.1) translate(-11.4,0) scale(0.8200,1)" font-size="25">5</text>
<line x1="1805.6" y1="887.2" x2="1819.9" y2="887.2" stroke="#000" stroke-width="2"/>
<text transform="translate(1799.3,896.6) translate(-22.8,0) scale(0.8200,1)" font-size="25">10</text>
<line x1="1805.6" y1="831.7" x2="1819.9" y2="831.7" stroke="#000" stroke-width="2"/>
<text transform="translate(1799.3,841.1) translate(-22.8,0) scale(0.8200,1)" font-size="25">15</text>
<line x1="1805.6" y1="776.2" x2="1819.9" y2="776.2" stroke="#000" stroke-width="2"/>
<text transform="translate(1799.3,785.6) translate(-22.8,0) scale(0.8200,1)" font-size="25">20</text>
<line x1="1805.6" y1="720.7" x2="1819.9" y2="720.7" stroke="#000" stroke-width="2"/>
<text transform="translate(1799.3,730.1) translate(-22.8,0) scale(0.8200,1)" font-size="25">25</text>
<line x1="1805" y1="998.2" x2="1958" y2="998.2" stroke="#000" stroke-width="2"/>
<rect x="1821.6" y="988.77" width="28.3" height="9.43" fill="#d6d6d6"/>
<rect x="1853.8" y="980.44" width="27.7" height="17.76" fill="#ff8000"/>
<rect x="1895.5" y="953.8" width="28.3" height="44.4" fill="#d6d6d6"/>
<rect x="1927.1" y="829.48" width="27.6" height="168.72" fill="#ff8000"/>
<line x1="1850.9" y1="998.2" x2="1850.9" y2="1012.5" stroke="#000" stroke-width="2"/>
<line x1="1924.6" y1="998.2" x2="1924.6" y2="1012.5" stroke="#000" stroke-width="2"/>
<circle cx="1825.2" cy="987.6" r="3.2" fill="#000"/>
<circle cx="1832.1" cy="986.2" r="3.2" fill="#000"/>
<circle cx="1839.4" cy="987.6" r="3.2" fill="#000"/>
<circle cx="1846.7" cy="986.8" r="3.2" fill="#000"/>
<line x1="1867.2" y1="967.9" x2="1867.2" y2="991.2" stroke="#000" stroke-width="1.6"/>
<line x1="1861" y1="967.9" x2="1873.5" y2="967.9" stroke="#000" stroke-width="1.6"/>
<line x1="1861" y1="991.2" x2="1873.5" y2="991.2" stroke="#000" stroke-width="1.6"/>
<circle cx="1860.5" cy="977.9" r="3.2" fill="#000"/>
<circle cx="1873.2" cy="981.2" r="3.2" fill="#000"/>
<circle cx="1867.2" cy="967.9" r="3.2" fill="#000"/>
<circle cx="1867.2" cy="994.5" r="3.2" fill="#000"/>
<line x1="1909.8" y1="937" x2="1909.8" y2="970.2" stroke="#000" stroke-width="1.6"/>
<line x1="1903.5" y1="937" x2="1916" y2="937" stroke="#000" stroke-width="1.6"/>
<line x1="1903.5" y1="970.2" x2="1916" y2="970.2" stroke="#000" stroke-width="1.6"/>
<circle cx="1909.8" cy="933" r="3.2" fill="#000"/>
<circle cx="1909.8" cy="951.3" r="3.2" fill="#000"/>
<circle cx="1909.8" cy="960.2" r="3.2" fill="#000"/>
<circle cx="1909.8" cy="972.2" r="3.2" fill="#000"/>
<line x1="1940.7" y1="811.4" x2="1940.7" y2="848" stroke="#000" stroke-width="1.6"/>
<line x1="1934.7" y1="811.4" x2="1947" y2="811.4" stroke="#000" stroke-width="1.6"/>
<line x1="1934.7" y1="848" x2="1947" y2="848" stroke="#000" stroke-width="1.6"/>
<circle cx="1940.7" cy="812.4" r="3.2" fill="#000"/>
<circle cx="1940.7" cy="820.4" r="3.2" fill="#000"/>
<circle cx="1940.7" cy="831.4" r="3.2" fill="#000"/>
<circle cx="1940.7" cy="854" r="3.2" fill="#000"/>
<line x1="1829.9" y1="948.9" x2="1869.8" y2="948.9" stroke="#222" stroke-width="1.6"/>
<text transform="translate(1850.8,939.6) translate(-11.65,0) scale(0.8485,1)" font-size="26">ns</text>
<text transform="translate(1822.6,903) scale(0.8487,1)" font-size="23" font-style="italic">p = 0.311</text>
<line x1="1911.4" y1="802.4" x2="1951.4" y2="802.4" stroke="#222" stroke-width="1.6"/>
<text transform="translate(1941.4,804.5) translate(-19,0) scale(0.9389,1)" font-size="26">****</text>
<text transform="translate(1889.8,773.2) scale(0.8368,1)" font-size="23" font-style="italic">p &lt; 0.0001</text>
<text transform="translate(1855.8,1046.2) translate(-25.45,0) scale(0.8194,1)" font-size="26">Mock</text>
<text transform="translate(1908,1046.2) scale(0.8090,1)" font-size="26"><tspan fill="#ff8000" font-weight="bold">ERβ</tspan>:</text>
<text transform="translate(1905.3,1079.2) scale(0.8223,1)" font-size="26">LLPS</text>
<text transform="translate(-1.2,593.6) scale(0.8185,1)" font-size="44" font-weight="bold">d</text>
<text transform="translate(135.3,668.8) translate(-48.75,0) scale(0.8434,1)" font-size="26">LBD:NLS:</text>
<text transform="translate(135.8,701) translate(-47.15,0) scale(0.8476,1)" font-size="26">VPR:YFP</text>
<text transform="translate(294.6,673) translate(-40.75,0) scale(0.8417,1)" font-size="26">P4:NLS:</text>
<text transform="translate(294.2,705.2) translate(-79.15,0) scale(0.8764,1)" font-size="26">TagBFP:6xTIF2</text>
<text transform="translate(468.7,697.4) translate(-38,0) scale(0.8484,1)" font-size="26">Overlay</text>
<text transform="translate(35.3,789.7) rotate(-90) translate(-59.9,0) scale(0.7926,1)" font-size="32"><tspan fill="#ff8000" font-weight="bold">ERβ</tspan>:LLPS</text>
<text transform="translate(35.6,953.2) rotate(-90) translate(-61.6,0) scale(0.7962,1)" font-size="32"><tspan fill="#c000c0" font-weight="bold">GR2</tspan>-LLPS</text>
<clipPath id="cr10"><rect x="0" y="0" width="162" height="161.5"/></clipPath>
<g transform="translate(47.2,711.2)" clip-path="url(#cr10)">
<rect x="0" y="0" width="162" height="161.5" fill="#000"/>
<g filter="url(#b2)">
<path d="M-3,38 C-0.17,36.67 8.67,36.25 14,36 C19.33,35.75 23.17,36.17 29,36.5 C34.83,36.83 43.67,39.17 49,38 C54.33,36.83 57.17,30.67 61,29.5 C64.83,28.33 68.07,30.48 72,31 C75.93,31.52 80.17,32.72 84.6,32.6 C89.03,32.48 94.45,30.07 98.6,30.3 C102.75,30.53 106.93,30.55 109.5,34 C112.07,37.45 112.97,44.77 114,51 C115.03,57.23 115.93,65.92 115.7,71.4 C115.47,76.88 114.42,80.3 112.6,83.9 C110.78,87.5 108.43,91.98 104.8,93 C101.17,94.02 95.2,91.27 90.8,90 C86.4,88.73 82.53,86.95 78.4,85.4 C74.27,83.85 69.62,80.7 66,80.7 C62.38,80.7 59.53,83.58 56.7,85.4 C53.87,87.22 52.37,90.17 49,91.6 C45.63,93.03 41.17,94.27 36.5,94 C31.83,93.73 24.37,91.67 21,90 C17.63,88.33 17.87,87.33 16.3,84 C14.73,80.67 13.67,75.47 11.6,70 C9.53,64.53 6.33,55.53 3.9,51.2 C1.47,46.87 -1.85,46.2 -3,44 C-4.15,41.8 -5.83,39.33 -3,38Z" fill="#807400"/>
<path d="M91,86 C93.17,82.83 98.33,83.83 106,84 C113.67,84.17 127,85.5 137,87 C147,88.5 161.17,79.83 166,93 C170.83,106.17 172.5,153.83 166,166 C159.5,178.17 134.67,168.67 127,166 C119.33,163.33 122.92,155.67 120,150 C117.08,144.33 112.83,137.33 109.5,132 C106.17,126.67 102.75,122.83 100,118 C97.25,113.17 94.5,108.33 93,103 C91.5,97.67 88.83,89.17 91,86Z" fill="#726800"/>
</g>
<g filter="url(#b2)">
<ellipse cx="40.4" cy="65.2" rx="21" ry="23" fill="#9c8e00"/>
<ellipse cx="92.4" cy="60.6" rx="21" ry="20" fill="#9c8e00"/>
</g>
<g filter="url(#b1)">
<ellipse cx="40.4" cy="65.2" rx="18" ry="20" fill="#3c3600"/>
<ellipse cx="92.4" cy="60.6" rx="18" ry="17" fill="#3c3600"/>
<ellipse cx="120" cy="105" rx="17" ry="17.5" fill="#201c00"/>
<ellipse cx="100" cy="145" rx="18" ry="22" fill="#000"/>
</g>
<g filter="url(#bd)">
<circle cx="27" cy="65" r="1.6" fill="#f4e400"/>
<circle cx="33" cy="58" r="1.6" fill="#f4e400"/>
<circle cx="39" cy="60" r="1.6" fill="#f4e400"/>
<circle cx="50" cy="68" r="1.6" fill="#f4e400"/>
<circle cx="36" cy="76" r="1.6" fill="#f4e400"/>
<circle cx="42" cy="79" r="1.6" fill="#f4e400"/>
<circle cx="46" cy="83" r="1.6" fill="#f4e400"/>
<circle cx="29" cy="71" r="1.6" fill="#f4e400"/>
<circle cx="35" cy="50" r="1.6" fill="#f4e400"/>
<circle cx="45" cy="55" r="1.6" fill="#f4e400"/>
<circle cx="24" cy="60" r="1.6" fill="#f4e400"/>
<circle cx="41" cy="70" r="1.6" fill="#f4e400"/>
<circle cx="83" cy="56" r="1.6" fill="#f4e400"/>
<circle cx="87" cy="63" r="1.6" fill="#f4e400"/>
<circle cx="96" cy="56" r="1.6" fill="#f4e400"/>
<circle cx="100" cy="56" r="1.6" fill="#f4e400"/>
<circle cx="90" cy="69" r="1.6" fill="#f4e400"/>
<circle cx="85" cy="71" r="1.6" fill="#f4e400"/>
<circle cx="94" cy="66" r="1.6" fill="#f4e400"/>
<circle cx="84" cy="46" r="1.6" fill="#f4e400"/>
<circle cx="97" cy="46" r="1.6" fill="#f4e400"/>
<circle cx="79" cy="60" r="1.6" fill="#f4e400"/>
<circle cx="120" cy="98" r="1.6" fill="#f4e400"/>
<circle cx="120" cy="110" r="1.6" fill="#f4e400"/>
<circle cx="106" cy="113" r="1.6" fill="#f4e400"/>
<circle cx="136" cy="67" r="1.6" fill="#f4e400"/>
<circle cx="122" cy="58" r="1.6" fill="#f4e400"/>
<circle cx="125" cy="61" r="1.6" fill="#f4e400"/>
<circle cx="155" cy="57" r="1.6" fill="#f4e400"/>
<circle cx="159" cy="83" r="1.6" fill="#f4e400"/>
<circle cx="19" cy="86" r="2.6" fill="#d8c800"/>
</g>
<rect x="0" y="0" width="162" height="161.5" fill="#000" filter="url(#grain)" opacity="0.3"/>
</g>
<clipPath id="cr20"><rect x="0" y="0" width="162" height="161.5"/></clipPath>
<g transform="translate(46.4,880.4)" clip-path="url(#cr20)">
<rect x="0" y="0" width="162" height="161.5" fill="#000"/>
<g filter="url(#b2)">
<path d="M64,33.4 C67.62,33.92 75.1,35.8 79.5,38 C83.9,40.2 87.55,44.13 90.4,46.6 C93.25,49.07 95.05,49.95 96.6,52.8 C98.15,55.65 99.05,59.57 99.7,63.7 C100.35,67.83 100.12,73.22 100.5,77.6 C100.88,81.98 101.1,85.33 102,90 C102.9,94.67 104.47,101.43 105.9,105.6 C107.33,109.77 109.05,112.42 110.6,115 C112.15,117.58 113.92,119.3 115.2,121.1 C116.48,122.9 119.58,126.05 118.3,125.8 C117.02,125.55 111.9,120.9 107.5,119.6 C103.1,118.3 97.6,118.52 91.9,118 C86.2,117.48 77.95,117.53 73.3,116.5 C68.65,115.47 67.1,113.88 64,111.8 C60.9,109.72 57.82,107.1 54.7,104 C51.58,100.9 48.15,96.3 45.3,93.2 C42.45,90.1 39.4,87.73 37.6,85.4 C35.8,83.07 33.98,81.53 34.5,79.2 C35.02,76.87 39.15,74.25 40.7,71.4 C42.25,68.55 43.03,65.72 43.8,62.1 C44.57,58.48 44,53.58 45.3,49.7 C46.6,45.82 49.52,41.27 51.6,38.8 C53.68,36.33 55.73,35.8 57.8,34.9 C59.87,34 60.38,32.88 64,33.4Z" fill="#a89a00"/>
<path d="M117,114 C121.17,110.17 134.17,110.67 140,112 C145.83,113.33 149.83,116.5 152,122 C154.17,127.5 155,139.83 153,145 C151,150.17 145.17,151.83 140,153 C134.83,154.17 126.17,155 122,152 C117.83,149 115.83,141.33 115,135 C114.17,128.67 112.83,117.83 117,114Z" fill="#4a4400"/>
</g>
<g filter="url(#b1)">
<ellipse cx="68.5" cy="63.5" rx="22" ry="25" fill="#c0b000"/>
<ellipse cx="68.5" cy="63.5" rx="19" ry="22" fill="#4e4600"/>
<ellipse cx="92" cy="101" rx="5" ry="4" fill="#fff000"/>
</g>
<g filter="url(#bd)">
<circle cx="75" cy="47" r="1.7" fill="#ffee00"/>
<circle cx="77.6" cy="51.6" r="1.7" fill="#ffee00"/>
<circle cx="59" cy="55.6" r="1.7" fill="#ffee00"/>
<circle cx="60.9" cy="65.2" r="1.7" fill="#ffee00"/>
<circle cx="70.7" cy="69.9" r="1.7" fill="#ffee00"/>
<circle cx="49" cy="66.8" r="1.7" fill="#ffee00"/>
<circle cx="54.4" cy="73.8" r="1.7" fill="#ffee00"/>
<circle cx="59.8" cy="78.4" r="1.7" fill="#ffee00"/>
<circle cx="116" cy="82" r="1.2" fill="#8a7e00"/>
<circle cx="121" cy="95" r="1.2" fill="#8a7e00"/>
<circle cx="120" cy="100" r="1.2" fill="#8a7e00"/>
<circle cx="126" cy="97" r="1.2" fill="#8a7e00"/>
<circle cx="132" cy="75" r="1.2" fill="#8a7e00"/>
<circle cx="141" cy="71" r="1.2" fill="#8a7e00"/>
<circle cx="144" cy="58" r="1.2" fill="#8a7e00"/>
<circle cx="83" cy="19" r="1.2" fill="#8a7e00"/>
<circle cx="90" cy="16" r="1.2" fill="#8a7e00"/>
<circle cx="75" cy="19" r="1.2" fill="#8a7e00"/>
<circle cx="88" cy="25" r="1.2" fill="#8a7e00"/>
<circle cx="120" cy="110" r="1.2" fill="#8a7e00"/>
<circle cx="128" cy="92" r="1.2" fill="#8a7e00"/>
</g>
<rect x="0" y="0" width="162" height="161.5" fill="#000" filter="url(#grain)" opacity="0.3"/>
</g>
<clipPath id="cr11"><rect x="0" y="0" width="162" height="161.5"/></clipPath>
<g transform="translate(215,711.2)" clip-path="url(#cr11)">
<rect x="0" y="0" width="162" height="161.5" fill="#000"/>
<g filter="url(#b2)">
<path d="M-5,96 C-0.83,83.67 10.83,92.33 20,92 C29.17,91.67 41.67,95.33 50,94 C58.33,92.67 63,84.33 70,84 C77,83.67 87.67,87.67 92,92 C96.33,96.33 94,104 96,110 C98,116 104,121.33 104,128 C104,134.67 100,143.67 96,150 C92,156.33 96.83,163.33 80,166 C63.17,168.67 9.17,177.67 -5,166 C-19.17,154.33 -9.17,108.33 -5,96Z" fill="#072628"/>
<path d="M112,22 C116.33,15 131,18.33 140,18 C149,17.67 161.67,8.33 166,20 C170.33,31.67 170.33,77 166,88 C161.67,99 148,87 140,86 C132,85 122.33,86.33 118,82 C113.67,77.67 115,70 114,60 C113,50 107.67,29 112,22Z" fill="#24a6b4"/>
<path d="M96,-5 C101.33,-7.83 124.67,-8.17 130,-5 C135.33,-1.83 131,10 128,14 C125,18 117,19.33 112,19 C107,18.67 100.67,16 98,12 C95.33,8 90.67,-2.17 96,-5Z" fill="#2cc4d0"/>
<path d="M-3,38 C-0.17,36.67 8.67,36.25 14,36 C19.33,35.75 23.17,36.17 29,36.5 C34.83,36.83 43.67,39.17 49,38 C54.33,36.83 57.17,30.67 61,29.5 C64.83,28.33 68.07,30.48 72,31 C75.93,31.52 80.17,32.72 84.6,32.6 C89.03,32.48 94.45,30.07 98.6,30.3 C102.75,30.53 106.93,30.55 109.5,34 C112.07,37.45 112.97,44.77 114,51 C115.03,57.23 115.93,65.92 115.7,71.4 C115.47,76.88 114.42,80.3 112.6,83.9 C110.78,87.5 108.43,91.98 104.8,93 C101.17,94.02 95.2,91.27 90.8,90 C86.4,88.73 82.53,86.95 78.4,85.4 C74.27,83.85 69.62,80.7 66,80.7 C62.38,80.7 59.53,83.58 56.7,85.4 C53.87,87.22 52.37,90.17 49,91.6 C45.63,93.03 41.17,94.27 36.5,94 C31.83,93.73 24.37,91.67 21,90 C17.63,88.33 17.87,87.33 16.3,84 C14.73,80.67 13.67,75.47 11.6,70 C9.53,64.53 6.33,55.53 3.9,51.2 C1.47,46.87 -1.85,46.2 -3,44 C-4.15,41.8 -5.83,39.33 -3,38Z" fill="#30c8d4"/>
<path d="M91,86 C93.17,82.83 98.33,83.83 106,84 C113.67,84.17 127,85.5 137,87 C147,88.5 161.17,79.83 166,93 C170.83,106.17 172.5,153.83 166,166 C159.5,178.17 134.67,168.67 127,166 C119.33,163.33 122.92,155.67 120,150 C117.08,144.33 112.83,137.33 109.5,132 C106.17,126.67 102.75,122.83 100,118 C97.25,113.17 94.5,108.33 93,103 C91.5,97.67 88.83,89.17 91,86Z" fill="#28b0bc"/>
</g>
<g filter="url(#b2)">
<ellipse cx="40.4" cy="65.2" rx="21" ry="23" fill="#40f2fa"/>
<ellipse cx="92.4" cy="60.6" rx="21" ry="20" fill="#40f2fa"/>
<ellipse cx="142" cy="56" rx="12" ry="14" fill="#1a7c88"/>
</g>
<g filter="url(#b1)">
<ellipse cx="40.4" cy="65.2" rx="18" ry="20" fill="#082e30"/>
<ellipse cx="92.4" cy="60.6" rx="18" ry="17" fill="#082e30"/>
<ellipse cx="120" cy="105" rx="17" ry="17.5" fill="#061e20"/>
<ellipse cx="100" cy="148" rx="18" ry="20" fill="#000"/>
</g>
<g filter="url(#bd)">
<circle cx="27" cy="65" r="1.3" fill="#50c8c8"/>
<circle cx="33" cy="58" r="1.3" fill="#50c8c8"/>
<circle cx="39" cy="60" r="1.3" fill="#50c8c8"/>
<circle cx="50" cy="68" r="1.3" fill="#50c8c8"/>
<circle cx="36" cy="76" r="1.3" fill="#50c8c8"/>
<circle cx="42" cy="79" r="1.3" fill="#50c8c8"/>
<circle cx="83" cy="56" r="1.3" fill="#50c8c8"/>
<circle cx="87" cy="63" r="1.3" fill="#50c8c8"/>
<circle cx="96" cy="56" r="1.3" fill="#50c8c8"/>
<circle cx="100" cy="56" r="1.3" fill="#50c8c8"/>
<circle cx="90" cy="69" r="1.3" fill="#50c8c8"/>
<circle cx="85" cy="71" r="1.3" fill="#50c8c8"/>
<circle cx="120" cy="98" r="1.3" fill="#50c8c8"/>
<circle cx="120" cy="110" r="1.3" fill="#50c8c8"/>
<circle cx="106" cy="113" r="1.3" fill="#50c8c8"/>
</g>
<rect x="0" y="0" width="162" height="161.5" fill="#000" filter="url(#grain)" opacity="0.3"/>
</g>
<clipPath id="cr21"><rect x="0" y="0" width="162" height="161.5"/></clipPath>
<g transform="translate(214.2,880.4)" clip-path="url(#cr21)">
<rect x="0" y="0" width="162" height="161.5" fill="#000"/>
<g filter="url(#b3)">
<ellipse cx="100" cy="25" rx="50" ry="22" fill="#052426"/>
<ellipse cx="140" cy="70" rx="28" ry="40" fill="#06282a"/>
<ellipse cx="10" cy="150" rx="14" ry="24" fill="#0a4448"/>
<ellipse cx="25" cy="95" rx="30" ry="14" fill="#052426"/>
</g>
<g filter="url(#b2)">
<path d="M64,33.4 C67.62,33.92 75.1,35.8 79.5,38 C83.9,40.2 87.55,44.13 90.4,46.6 C93.25,49.07 95.05,49.95 96.6,52.8 C98.15,55.65 99.05,59.57 99.7,63.7 C100.35,67.83 100.12,73.22 100.5,77.6 C100.88,81.98 101.1,85.33 102,90 C102.9,94.67 104.47,101.43 105.9,105.6 C107.33,109.77 109.05,112.42 110.6,115 C112.15,117.58 113.92,119.3 115.2,121.1 C116.48,122.9 119.58,126.05 118.3,125.8 C117.02,125.55 111.9,120.9 107.5,119.6 C103.1,118.3 97.6,118.52 91.9,118 C86.2,117.48 77.95,117.53 73.3,116.5 C68.65,115.47 67.1,113.88 64,111.8 C60.9,109.72 57.82,107.1 54.7,104 C51.58,100.9 48.15,96.3 45.3,93.2 C42.45,90.1 39.4,87.73 37.6,85.4 C35.8,83.07 33.98,81.53 34.5,79.2 C35.02,76.87 39.15,74.25 40.7,71.4 C42.25,68.55 43.03,65.72 43.8,62.1 C44.57,58.48 44,53.58 45.3,49.7 C46.6,45.82 49.52,41.27 51.6,38.8 C53.68,36.33 55.73,35.8 57.8,34.9 C59.87,34 60.38,32.88 64,33.4Z" fill="#2ab4c0"/>
<path d="M117,114 C121.17,110.17 134.17,110.67 140,112 C145.83,113.33 149.83,116.5 152,122 C154.17,127.5 155,139.83 153,145 C151,150.17 145.17,151.83 140,153 C134.83,154.17 126.17,155 122,152 C117.83,149 115.83,141.33 115,135 C114.17,128.67 112.83,117.83 117,114Z" fill="#1c8a96"/>
</g>
<g filter="url(#b1)">
<ellipse cx="68.5" cy="63.5" rx="22" ry="25" fill="#34d8e4"/>
<ellipse cx="68.5" cy="63.5" rx="19" ry="22" fill="#0a3436"/>
<ellipse cx="92" cy="101" rx="4" ry="4" fill="#50f0f8"/>
</g>
<g filter="url(#bd)">
<circle cx="75" cy="47" r="1.3" fill="#60d8d8"/>
<circle cx="77.6" cy="51.6" r="1.3" fill="#60d8d8"/>
<circle cx="59" cy="55.6" r="1.3" fill="#60d8d8"/>
<circle cx="60.9" cy="65.2" r="1.3" fill="#60d8d8"/>
<circle cx="70.7" cy="69.9" r="1.3" fill="#60d8d8"/>
<circle cx="49" cy="66.8" r="1.3" fill="#60d8d8"/>
</g>
<rect x="0" y="0" width="162" height="161.5" fill="#000" filter="url(#grain)" opacity="0.3"/>
</g>
<clipPath id="cr12"><rect x="0" y="0" width="162" height="161.5"/></clipPath>
<g transform="translate(382,711.2)" clip-path="url(#cr12)">
<rect x="0" y="0" width="162" height="161.5" fill="#000"/>
<g filter="url(#b2)">
<path d="M-5,96 C-0.83,83.67 10.83,92.33 20,92 C29.17,91.67 41.67,95.33 50,94 C58.33,92.67 63,84.33 70,84 C77,83.67 87.67,87.67 92,92 C96.33,96.33 94,104 96,110 C98,116 104,121.33 104,128 C104,134.67 100,143.67 96,150 C92,156.33 96.83,163.33 80,166 C63.17,168.67 9.17,177.67 -5,166 C-19.17,154.33 -9.17,108.33 -5,96Z" fill="#072628"/>
<path d="M112,22 C116.33,15 131,18.33 140,18 C149,17.67 161.67,8.33 166,20 C170.33,31.67 170.33,77 166,88 C161.67,99 148,87 140,86 C132,85 122.33,86.33 118,82 C113.67,77.67 115,70 114,60 C113,50 107.67,29 112,22Z" fill="#2898a8"/>
<path d="M96,-5 C101.33,-7.83 124.67,-8.17 130,-5 C135.33,-1.83 131,10 128,14 C125,18 117,19.33 112,19 C107,18.67 100.67,16 98,12 C95.33,8 90.67,-2.17 96,-5Z" fill="#28b0bc"/>
<path d="M-3,38 C-0.17,36.67 8.67,36.25 14,36 C19.33,35.75 23.17,36.17 29,36.5 C34.83,36.83 43.67,39.17 49,38 C54.33,36.83 57.17,30.67 61,29.5 C64.83,28.33 68.07,30.48 72,31 C75.93,31.52 80.17,32.72 84.6,32.6 C89.03,32.48 94.45,30.07 98.6,30.3 C102.75,30.53 106.93,30.55 109.5,34 C112.07,37.45 112.97,44.77 114,51 C115.03,57.23 115.93,65.92 115.7,71.4 C115.47,76.88 114.42,80.3 112.6,83.9 C110.78,87.5 108.43,91.98 104.8,93 C101.17,94.02 95.2,91.27 90.8,90 C86.4,88.73 82.53,86.95 78.4,85.4 C74.27,83.85 69.62,80.7 66,80.7 C62.38,80.7 59.53,83.58 56.7,85.4 C53.87,87.22 52.37,90.17 49,91.6 C45.63,93.03 41.17,94.27 36.5,94 C31.83,93.73 24.37,91.67 21,90 C17.63,88.33 17.87,87.33 16.3,84 C14.73,80.67 13.67,75.47 11.6,70 C9.53,64.53 6.33,55.53 3.9,51.2 C1.47,46.87 -1.85,46.2 -3,44 C-4.15,41.8 -5.83,39.33 -3,38Z" fill="#4cc89c"/>
<path d="M91,86 C93.17,82.83 98.33,83.83 106,84 C113.67,84.17 127,85.5 137,87 C147,88.5 161.17,79.83 166,93 C170.83,106.17 172.5,153.83 166,166 C159.5,178.17 134.67,168.67 127,166 C119.33,163.33 122.92,155.67 120,150 C117.08,144.33 112.83,137.33 109.5,132 C106.17,126.67 102.75,122.83 100,118 C97.25,113.17 94.5,108.33 93,103 C91.5,97.67 88.83,89.17 91,86Z" fill="#3cae8e"/>
</g>
<g filter="url(#b2)">
<ellipse cx="40.4" cy="65.2" rx="21" ry="23" fill="#5ee6b0"/>
<ellipse cx="92.4" cy="60.6" rx="21" ry="20" fill="#5ee6b0"/>
<ellipse cx="142" cy="56" rx="12" ry="14" fill="#1a7c88"/>
</g>
<g filter="url(#b1)">
<ellipse cx="40.4" cy="65.2" rx="18" ry="20" fill="#1e2c10"/>
<ellipse cx="92.4" cy="60.6" rx="18" ry="17" fill="#1e2c10"/>
<ellipse cx="120" cy="105" rx="17" ry="17.5" fill="#0c1e14"/>
<ellipse cx="100" cy="148" rx="18" ry="20" fill="#000"/>
</g>
<g filter="url(#bd)">
<circle cx="27" cy="65" r="1.5" fill="#e8e070"/>
<circle cx="33" cy="58" r="1.5" fill="#e8e070"/>
<circle cx="39" cy="60" r="1.5" fill="#e8e070"/>
<circle cx="50" cy="68" r="1.5" fill="#e8e070"/>
<circle cx="36" cy="76" r="1.5" fill="#e8e070"/>
<circle cx="42" cy="79" r="1.5" fill="#e8e070"/>
<circle cx="46" cy="83" r="1.5" fill="#e8e070"/>
<circle cx="29" cy="71" r="1.5" fill="#e8e070"/>
<circle cx="35" cy="50" r="1.5" fill="#e8e070"/>
<circle cx="45" cy="55" r="1.5" fill="#e8e070"/>
<circle cx="24" cy="60" r="1.5" fill="#e8e070"/>
<circle cx="41" cy="70" r="1.5" fill="#e8e070"/>
<circle cx="83" cy="56" r="1.5" fill="#e8e070"/>
<circle cx="87" cy="63" r="1.5" fill="#e8e070"/>
<circle cx="96" cy="56" r="1.5" fill="#e8e070"/>
<circle cx="100" cy="56" r="1.5" fill="#e8e070"/>
<circle cx="90" cy="69" r="1.5" fill="#e8e070"/>
<circle cx="85" cy="71" r="1.5" fill="#e8e070"/>
<circle cx="94" cy="66" r="1.5" fill="#e8e070"/>
<circle cx="84" cy="46" r="1.5" fill="#e8e070"/>
<circle cx="97" cy="46" r="1.5" fill="#e8e070"/>
<circle cx="79" cy="60" r="1.5" fill="#e8e070"/>
<circle cx="120" cy="98" r="1.5" fill="#e8e070"/>
<circle cx="120" cy="110" r="1.5" fill="#e8e070"/>
<circle cx="106" cy="113" r="1.5" fill="#e8e070"/>
</g>
<rect x="0" y="0" width="162" height="161.5" fill="#000" filter="url(#grain)" opacity="0.3"/>
<line x1="102" y1="115.5" x2="124" y2="108.5" stroke="#fff" stroke-width="1.6"/>
<path d="M100.5,116 L106,112 L106.5,116.5Z M125.5,108 L120,107.5 L121.5,112Z" fill="#fff"/>
<rect x="127" y="151.5" width="35" height="10" fill="#fff"/>
</g>
<clipPath id="cr22"><rect x="0" y="0" width="162" height="161.5"/></clipPath>
<g transform="translate(381.2,880.4)" clip-path="url(#cr22)">
<rect x="0" y="0" width="162" height="161.5" fill="#000"/>
<g filter="url(#b3)">
<ellipse cx="100" cy="25" rx="50" ry="22" fill="#052426"/>
<ellipse cx="140" cy="70" rx="28" ry="40" fill="#06282a"/>
<ellipse cx="10" cy="150" rx="14" ry="24" fill="#0a4448"/>
<ellipse cx="25" cy="95" rx="30" ry="14" fill="#052426"/>
</g>
<g filter="url(#b2)">
<path d="M64,33.4 C67.62,33.92 75.1,35.8 79.5,38 C83.9,40.2 87.55,44.13 90.4,46.6 C93.25,49.07 95.05,49.95 96.6,52.8 C98.15,55.65 99.05,59.57 99.7,63.7 C100.35,67.83 100.12,73.22 100.5,77.6 C100.88,81.98 101.1,85.33 102,90 C102.9,94.67 104.47,101.43 105.9,105.6 C107.33,109.77 109.05,112.42 110.6,115 C112.15,117.58 113.92,119.3 115.2,121.1 C116.48,122.9 119.58,126.05 118.3,125.8 C117.02,125.55 111.9,120.9 107.5,119.6 C103.1,118.3 97.6,118.52 91.9,118 C86.2,117.48 77.95,117.53 73.3,116.5 C68.65,115.47 67.1,113.88 64,111.8 C60.9,109.72 57.82,107.1 54.7,104 C51.58,100.9 48.15,96.3 45.3,93.2 C42.45,90.1 39.4,87.73 37.6,85.4 C35.8,83.07 33.98,81.53 34.5,79.2 C35.02,76.87 39.15,74.25 40.7,71.4 C42.25,68.55 43.03,65.72 43.8,62.1 C44.57,58.48 44,53.58 45.3,49.7 C46.6,45.82 49.52,41.27 51.6,38.8 C53.68,36.33 55.73,35.8 57.8,34.9 C59.87,34 60.38,32.88 64,33.4Z" fill="#64d896"/>
<path d="M117,114 C121.17,110.17 134.17,110.67 140,112 C145.83,113.33 149.83,116.5 152,122 C154.17,127.5 155,139.83 153,145 C151,150.17 145.17,151.83 140,153 C134.83,154.17 126.17,155 122,152 C117.83,149 115.83,141.33 115,135 C114.17,128.67 112.83,117.83 117,114Z" fill="#2a9a8e"/>
</g>
<g filter="url(#b1)">
<ellipse cx="68.5" cy="63.5" rx="22" ry="25" fill="#7cf0a8"/>
<ellipse cx="68.5" cy="63.5" rx="19" ry="22" fill="#263a18"/>
<ellipse cx="92" cy="101" rx="4" ry="4" fill="#e0ffe8"/>
</g>
<g filter="url(#bd)">
<circle cx="75" cy="47" r="1.6" fill="#f0f080"/>
<circle cx="77.6" cy="51.6" r="1.6" fill="#f0f080"/>
<circle cx="59" cy="55.6" r="1.6" fill="#f0f080"/>
<circle cx="60.9" cy="65.2" r="1.6" fill="#f0f080"/>
<circle cx="70.7" cy="69.9" r="1.6" fill="#f0f080"/>
<circle cx="49" cy="66.8" r="1.6" fill="#f0f080"/>
<circle cx="54.4" cy="73.8" r="1.6" fill="#f0f080"/>
<circle cx="59.8" cy="78.4" r="1.6" fill="#f0f080"/>
<circle cx="116" cy="82" r="1.1" fill="#6a7a40"/>
<circle cx="121" cy="95" r="1.1" fill="#6a7a40"/>
<circle cx="120" cy="100" r="1.1" fill="#6a7a40"/>
<circle cx="126" cy="97" r="1.1" fill="#6a7a40"/>
<circle cx="132" cy="75" r="1.1" fill="#6a7a40"/>
<circle cx="141" cy="71" r="1.1" fill="#6a7a40"/>
<circle cx="144" cy="58" r="1.1" fill="#6a7a40"/>
<circle cx="83" cy="19" r="1.1" fill="#6a7a40"/>
<circle cx="90" cy="16" r="1.1" fill="#6a7a40"/>
<circle cx="75" cy="19" r="1.1" fill="#6a7a40"/>
<circle cx="88" cy="25" r="1.1" fill="#6a7a40"/>
<circle cx="120" cy="110" r="1.1" fill="#6a7a40"/>
<circle cx="128" cy="92" r="1.1" fill="#6a7a40"/>
</g>
<rect x="0" y="0" width="162" height="161.5" fill="#000" filter="url(#grain)" opacity="0.3"/>
<line x1="45.5" y1="60.5" x2="62.5" y2="81" stroke="#f4fff4" stroke-width="1.8"/>
<text transform="translate(157.3,139) translate(-51,0) scale(0.8676,1)" font-size="21" fill="#fff">10 µm</text>
<rect x="134" y="151.5" width="28" height="10" fill="#fff"/>
</g>
<path d="M133.2,845.2 L154.2,829.2 L155.2,855.6 Z" fill="#fff"/>
<path d="M299.6,847.1 L319.8,831.5 L320.6,857.2 Z" fill="#fff"/>
<path d="M75.4,932.4 L93.3,951 L67.7,954.6 Z" fill="#fff"/>
<path d="M240.6,930.1 L258.5,948.7 L232.1,952.1 Z" fill="#fff"/>
<line x1="601.7" y1="684" x2="639.3" y2="684" stroke="#12809a" stroke-width="8"/>
<text transform="translate(646.4,692.5) scale(0.8974,1)" font-size="25.5">TagBFP</text>
<line x1="741" y1="684" x2="778.6" y2="684" stroke="#c0c000" stroke-width="8"/>
<text transform="translate(784.7,692.5) scale(0.8610,1)" font-size="25.5">YFP</text>
<line x1="647.3" y1="730.2" x2="647.3" y2="826.1" stroke="#000" stroke-width="2"/>
<line x1="646.3" y1="825.1" x2="817" y2="825.1" stroke="#000" stroke-width="2"/>
<line x1="639.7" y1="825.1" x2="647.3" y2="825.1" stroke="#000" stroke-width="2"/>
<text transform="translate(632.2,832.7) translate(-10.04,0) scale(0.8600,1)" font-size="21">0</text>
<line x1="639.7" y1="793.8" x2="647.3" y2="793.8" stroke="#000" stroke-width="2"/>
<text transform="translate(632.2,801.4) translate(-30.13,0) scale(0.8600,1)" font-size="21">100</text>
<line x1="639.7" y1="762.5" x2="647.3" y2="762.5" stroke="#000" stroke-width="2"/>
<text transform="translate(632.2,770.1) translate(-30.13,0) scale(0.8600,1)" font-size="21">200</text>
<line x1="639.7" y1="731.2" x2="647.3" y2="731.2" stroke="#000" stroke-width="2"/>
<text transform="translate(632.2,738.8) translate(-30.13,0) scale(0.8600,1)" font-size="21">300</text>
<line x1="647.4" y1="825.1" x2="647.4" y2="832.6" stroke="#000" stroke-width="2"/>
<text transform="translate(647.4,861.3) translate(-5.02,0) scale(0.8600,1)" font-size="21">0</text>
<line x1="689.1" y1="825.1" x2="689.1" y2="832.6" stroke="#000" stroke-width="2"/>
<text transform="translate(689.1,861.3) translate(-5.02,0) scale(0.8600,1)" font-size="21">2</text>
<line x1="731.2" y1="825.1" x2="731.2" y2="832.6" stroke="#000" stroke-width="2"/>
<text transform="translate(731.2,861.3) translate(-5.02,0) scale(0.8600,1)" font-size="21">4</text>
<line x1="773.5" y1="825.1" x2="773.5" y2="832.6" stroke="#000" stroke-width="2"/>
<text transform="translate(773.5,861.3) translate(-5.02,0) scale(0.8600,1)" font-size="21">6</text>
<line x1="815.2" y1="825.1" x2="815.2" y2="832.6" stroke="#000" stroke-width="2"/>
<text transform="translate(815.2,861.3) translate(-5.02,0) scale(0.8600,1)" font-size="21">8</text>
<text transform="translate(584.5,776) rotate(-90) translate(-69,0) scale(0.8541,1)" font-size="25.5">Intensity (a.u.)</text>
<line x1="647.3" y1="902.3" x2="647.3" y2="998" stroke="#000" stroke-width="2"/>
<line x1="646.3" y1="997" x2="817" y2="997" stroke="#000" stroke-width="2"/>
<line x1="639.7" y1="997" x2="647.3" y2="997" stroke="#000" stroke-width="2"/>
<text transform="translate(632.2,1004.6) translate(-10.04,0) scale(0.8600,1)" font-size="21">0</text>
<line x1="639.7" y1="965.77" x2="647.3" y2="965.77" stroke="#000" stroke-width="2"/>
<text transform="translate(632.2,973.37) translate(-30.13,0) scale(0.8600,1)" font-size="21">100</text>
<line x1="639.7" y1="934.53" x2="647.3" y2="934.53" stroke="#000" stroke-width="2"/>
<text transform="translate(632.2,942.13) translate(-30.13,0) scale(0.8600,1)" font-size="21">200</text>
<line x1="639.7" y1="903.3" x2="647.3" y2="903.3" stroke="#000" stroke-width="2"/>
<text transform="translate(632.2,910.9) translate(-30.13,0) scale(0.8600,1)" font-size="21">300</text>
<line x1="648.1" y1="997" x2="648.1" y2="1004.5" stroke="#000" stroke-width="2"/>
<text transform="translate(648.1,1034) translate(-5.02,0) scale(0.8600,1)" font-size="21">0</text>
<line x1="691" y1="997" x2="691" y2="1004.5" stroke="#000" stroke-width="2"/>
<text transform="translate(691,1034) translate(-5.02,0) scale(0.8600,1)" font-size="21">2</text>
<line x1="732.7" y1="997" x2="732.7" y2="1004.5" stroke="#000" stroke-width="2"/>
<text transform="translate(732.7,1034) translate(-5.02,0) scale(0.8600,1)" font-size="21">4</text>
<line x1="775" y1="997" x2="775" y2="1004.5" stroke="#000" stroke-width="2"/>
<text transform="translate(775,1034) translate(-5.02,0) scale(0.8600,1)" font-size="21">6</text>
<line x1="817.2" y1="997" x2="817.2" y2="1004.5" stroke="#000" stroke-width="2"/>
<text transform="translate(817.2,1034) translate(-5.02,0) scale(0.8600,1)" font-size="21">8</text>
<text transform="translate(584.5,958) rotate(-90) translate(-69,0) scale(0.8541,1)" font-size="25.5">Intensity (a.u.)</text>
<text transform="translate(734.5,1063.9) translate(-69.05,0) scale(0.8507,1)" font-size="26">Distance (µm)</text>
<polyline points="647.4,822.82 648.45,822.6 649.5,825.1 650.55,825.1 651.6,822.38 652.64,822.61 653.69,822.68 654.74,822.15 655.79,818.31 656.84,815.96 657.89,813.74 658.94,813.51 659.99,809.8 661.03,808.03 662.08,804.42 663.13,801.1 664.18,799.37 665.23,799.45 666.28,797.99 667.33,796.92 668.38,796.12 669.42,794.34 670.47,790.32 671.52,789.23 672.57,787.1 673.62,782.71 674.67,782.72 675.72,783.59 676.76,786.25 677.81,788.36 678.86,787.89 679.91,789.88 680.96,789.05 682.01,789.48 683.06,793.97 684.11,799.31 685.15,798.61 686.2,801.96 687.25,805.15 688.3,808.2 689.35,812.83 690.4,816.61 691.45,822.7 692.5,819.56 693.54,819.66 694.59,823.67 695.64,820.7 696.69,820.89 697.74,822.16 698.79,821.82 699.84,822.02 700.89,819.84 701.93,821.97 702.98,820.31 704.03,822.7 705.08,820.05 706.13,819.97 707.18,822.17 708.23,821.63 709.28,819.86 710.32,820.85 711.37,822.04 712.42,823.36 713.47,822.85 714.52,820.97 715.57,823.64 716.62,819.93 717.67,822.35 718.71,818.34 719.76,820.58 720.81,816.55 721.86,818.98 722.91,821.17 723.96,822.27 725.01,822.78 726.06,822.9 727.1,824.09 728.15,824.41 729.2,822.69 730.25,820.38 731.3,821.74 732.35,824.29 733.4,820.37 734.45,820.64 735.49,819.54 736.54,822.93 737.59,819.96 738.64,823.2 739.69,820.03 740.74,821.74 741.79,821.77 742.84,817.35 743.88,820.03 744.93,816.77 745.98,813.94 747.03,813.34 748.08,809.86 749.13,802.85 750.18,801.49 751.23,796.37 752.27,796.14 753.32,793.45 754.37,793.36 755.42,789.8 756.47,791.72 757.52,786.31 758.57,789.92 759.62,787.43 760.66,792.02 761.71,791.89 762.76,790.14 763.81,794.47 764.86,795.38 765.91,793.62 766.96,795.94 768.01,798.44 769.05,794.48 770.1,801.81 771.15,805.51 772.2,807.1 773.25,808.87 774.3,810.32 775.35,815.56 776.4,816.53 777.44,820.15 778.49,820.14 779.54,820.64 780.59,820.54 781.64,819.51 782.69,820.02 783.74,819.26 784.79,819.82 785.83,820.76 786.88,821.78 787.93,819.38 788.98,820.88 790.03,821.73 791.08,819.77 792.13,817.41 793.18,820.93 794.22,818.41" fill="none" stroke="#12809a" stroke-width="5" stroke-linejoin="round"/>
<polyline points="647.4,825.1 648.45,813.2 649.5,807.26 650.55,807.49 651.6,816.02 652.64,825.1 653.69,823.8 654.74,817.57 655.79,816.61 656.84,804.19 657.89,788.81 658.94,789.22 659.99,786.28 661.03,775.11 662.08,761.98 663.13,759.9 664.18,754.17 665.23,749.38 666.28,746.76 667.33,745.83 668.38,745.98 669.42,748.15 670.47,745.43 671.52,745.95 672.57,746.93 673.62,747.83 674.67,744.58 675.72,745.95 676.76,744.91 677.81,744.35 678.86,744.7 679.91,744.35 680.96,745.68 682.01,748.46 683.06,754.1 684.11,756.56 685.15,761.08 686.2,771.84 687.25,779.52 688.3,787.04 689.35,792.05 690.4,800.3 691.45,805.84 692.5,813.33 693.54,818.81 694.59,820.44 695.64,821.75 696.69,822.04 697.74,823.22 698.79,822.02 699.84,822.85 700.89,821.92 701.93,822.2 702.98,821.69 704.03,822.89 705.08,824.8 706.13,822.18 707.18,821.79 708.23,822.01 709.28,823.28 710.32,822.73 711.37,824.62 712.42,822.29 713.47,823.26 714.52,824.34 715.57,825.1 716.62,822.21 717.67,819.35 718.71,820.39 719.76,815.36 720.81,814.48 721.86,815.07 722.91,814.14 723.96,811.96 725.01,811.18 726.06,817.03 727.1,817.63 728.15,822.51 729.2,822.71 730.25,823.65 731.3,821.06 732.35,820.16 733.4,821.43 734.45,819.05 735.49,821.12 736.54,821.8 737.59,819.64 738.64,821.58 739.69,820.76 740.74,819.77 741.79,818.82 742.84,820.33 743.88,820.56 744.93,811.2 745.98,807.02 747.03,798.34 748.08,779.79 749.13,762.96 750.18,765.78 751.23,768.68 752.27,760.92 753.32,753.79 754.37,746.63 755.42,746.29 756.47,744.97 757.52,746.49 758.57,746.66 759.62,745.46 760.66,747.16 761.71,746.81 762.76,744.35 763.81,745.76 764.86,745.55 765.91,747.46 766.96,745.83 768.01,745.1 769.05,747.09 770.1,749.15 771.15,753.4 772.2,759.85 773.25,762.02 774.3,770.45 775.35,777.48 776.4,786.53 777.44,793.02 778.49,803.34 779.54,816.46 780.59,825.1 781.64,823.81 782.69,822.11 783.74,824.16 784.79,822.76 785.83,821.62 786.88,821.47 787.93,820.13 788.98,819.15 790.03,817.77 791.08,819.52 792.13,823.24 793.18,825.1 794.22,822.51 795.27,823.75 796.32,820.14 797.37,817.96 798.42,817.99" fill="none" stroke="#c0c000" stroke-width="5" stroke-linejoin="round"/>
<polyline points="648.1,979.58 649.16,981.8 650.21,981.9 651.27,984.67 652.33,986.67 653.38,986.56 654.44,985.54 655.5,985.09 656.56,984.22 657.61,985.9 658.67,983.28 659.73,983.54 660.78,983.02 661.84,983.74 662.9,983.59 663.95,980.42 665.01,981.3 666.07,981.8 667.12,982.22 668.18,985.65 669.24,985.46 670.29,983.56 671.35,982.72 672.41,981.8 673.47,981.36 674.52,985.01 675.58,982.1 676.64,981.46 677.69,981.98 678.75,983.31 679.81,981.52 680.86,977.97 681.92,968.28 682.98,963.16 684.03,959.28 685.09,953.49 686.15,943.42 687.2,938.08 688.26,929.5 689.32,931.23 690.38,934.49 691.43,936.53 692.49,937.16 693.55,943.08 694.6,949.5 695.66,953.86 696.72,956.4 697.77,965.32 698.83,970.38 699.89,972.55 700.94,979.36 702,978.87 703.06,979.97 704.11,981.39 705.17,978.9 706.23,983.69 707.28,983.38 708.34,985.21 709.4,983.84 710.46,991.87 711.51,997 712.57,994.2 713.63,994.77 714.68,992.02 715.74,988.73 716.8,991.19 717.85,989.82 718.91,988.46 719.97,985.26 721.02,985.49 722.08,986.86 723.14,985.87 724.19,986.12 725.25,985.1 726.31,987.57 727.37,984.69 728.42,984.09 729.48,984.19 730.54,985.68 731.59,984.94 732.65,990.04 733.71,985.04 734.76,978.01 735.82,975.32 736.88,973.5 737.93,967.2 738.99,965.16 740.05,964.7 741.1,967.84 742.16,968.87 743.22,968.13 744.28,970.19 745.33,969.48 746.39,965.8 747.45,968.17 748.5,969 749.56,968.04 750.62,970.02 751.67,969.55 752.73,974.26 753.79,977.23 754.84,980.79 755.9,978.98 756.96,983.33 758.01,985.97 759.07,988.27 760.13,989.85 761.19,990.85 762.24,989.87 763.3,994.07 764.36,996.17 765.41,993.3 766.47,993.88 767.53,989.52 768.58,993.27 769.64,990.61 770.7,988.76 771.75,989.96 772.81,986.44 773.87,988.37 774.92,988.92 775.98,986.91 777.04,987.6 778.1,984.51 779.15,984.2 780.21,979.83 781.27,978.95 782.32,979.44 783.38,980.6 784.44,975.84 785.49,972.26 786.55,968.79 787.61,965.03 788.66,958.19 789.72,958.19 790.78,957.6 791.83,952.18 792.89,952.95 793.95,949.78 795.01,951.68 796.06,948.15 797.12,950.16 798.18,950.26 799.23,951.27 800.29,953.3 801.35,958.43 802.4,960.96 803.46,960.78 804.52,963.77 805.57,966.77 806.63,972.83 807.69,974.35 808.74,976.76 809.8,980.67 810.86,982.93 811.92,987.49 812.97,989.98 814.03,989.04 815.09,990.35 816.14,986.3 817.2,985.35" fill="none" stroke="#12809a" stroke-width="5" stroke-linejoin="round"/>
<polyline points="648.1,968.43 649.16,970.33 650.21,972.47 651.27,974.26 652.33,977.36 653.38,979.18 654.44,985.02 655.5,985.88 656.56,986.59 657.61,990.19 658.67,973.63 659.73,960.97 660.78,965.88 661.84,972.96 662.9,978.1 663.95,975.38 665.01,974.88 666.07,971.51 667.12,974.92 668.18,976.18 669.24,980.39 670.29,979.02 671.35,972.98 672.41,971.81 673.47,974.31 674.52,980.44 675.58,985.2 676.64,986.24 677.69,985.6 678.75,982.45 679.81,976.45 680.86,965.15 681.92,955.62 682.98,941.39 684.03,931.26 685.09,926.06 686.15,923.15 687.2,916.42 688.26,917.81 689.32,917.95 690.38,919.39 691.43,922.79 692.49,928.18 693.55,934.54 694.6,940.23 695.66,946.16 696.72,950.89 697.77,956.79 698.83,966.07 699.89,970.57 700.94,978.87 702,979.49 703.06,978.11 704.11,979.89 705.17,981.03 706.23,980.93 707.28,980.62 708.34,986.17 709.4,985.85 710.46,992.54 711.51,992.94 712.57,989.46 713.63,989.44 714.68,983.43 715.74,981.88 716.8,978.49 717.85,978.02 718.91,975.27 719.97,972.17 721.02,966.66 722.08,966.9 723.14,971.05 724.19,976.65 725.25,975.04 726.31,975.72 727.37,974.12 728.42,971.92 729.48,964.73 730.54,960.99 731.59,952.34 732.65,945.91 733.71,946.46 734.76,950.33 735.82,947.7 736.88,951.68 737.93,944.5 738.99,937.24 740.05,929.84 741.1,925.76 742.16,917.33 743.22,921.87 744.28,925.87 745.33,928.97 746.39,932.62 747.45,936.11 748.5,938.97 749.56,940.07 750.62,942.04 751.67,948.3 752.73,954.44 753.79,956.65 754.84,964.08 755.9,970.28 756.96,976.64 758.01,981.03 759.07,980.94 760.13,983.11 761.19,984.02 762.24,986.17 763.3,980.34 764.36,981.05 765.41,976.72 766.47,976.99 767.53,981.21 768.58,980.52 769.64,981.26 770.7,984.02 771.75,982.65 772.81,984.42 773.87,982.41 774.92,982.7 775.98,976.19 777.04,974.34 778.1,969.85 779.15,963.9 780.21,958.2 781.27,951.49 782.32,947.2 783.38,940.82 784.44,936.02 785.49,933.05 786.55,929.85 787.61,925.52 788.66,922.58 789.72,917.82 790.78,916.42 791.83,916.42 792.89,916.88 793.95,917.36 795.01,917.96 796.06,918.89 797.12,918.21 798.18,916.42 799.23,916.42 800.29,917.87 801.35,916.42 802.4,916.42 803.46,924.04 804.52,931.58 805.57,938.64 806.63,947.54 807.69,951.26 808.74,957.84 809.8,962.07 810.86,966 811.92,971.3 812.97,975.28 814.03,975.34 815.09,978.95 816.14,981.71 817.2,986.34" fill="none" stroke="#c0c000" stroke-width="5" stroke-linejoin="round"/>
<text transform="translate(63,36.4) scale(0.8091,1)" font-size="44" font-weight="bold">a</text>
<path d="M152,124.6 L154.47,125.76 L156.69,126.62 L158.44,126.96 L159.58,126.6 L160.06,125.49 L159.94,123.7 L159.36,121.37 L158.54,118.77 L157.72,116.17 L157.16,113.87 L157.07,112.11 L157.6,111.05 L158.78,110.74 L160.57,111.12 L162.81,112.01 L165.28,113.18 L167.74,114.32 L169.94,115.16 L171.65,115.46 L172.75,115.06 L173.2,113.9 L173.04,112.06 L172.44,109.71 L171.61,107.1 L170.8,104.52 L170.26,102.25 L170.21,100.53 L170.78,99.51 L172,99.25 L173.82,99.66 L176.08,100.58 L178.56,101.75 L181.01,102.89 L183.18,103.7 L184.86,103.96 L185.92,103.5 L186.33,102.3 L186.14,100.43 L185.52,98.06 L184.68,95.44 L183.88,92.86 L183.37,90.62 L183.35,88.94 L183.96,87.97 L185.22,87.75 L187.08,88.2 L189.36,89.15 L191.85,90.33 L194.29,91.45 L196.43,92.23 L198.07,92.45" fill="none" stroke="#9a9a9a" stroke-width="6.2" stroke-linecap="round" stroke-linejoin="round"/>
<path d="M194,88 C199,92 206,93 211,87" fill="none" stroke="#444" stroke-width="2"/>
<text transform="translate(133.5,94.6) scale(0.7985,1)" font-size="30" fill="#999" font-weight="bold">P4</text>
<text transform="translate(268.6,22.5) scale(0.8527,1)" font-size="30" fill="#10ee10" font-weight="bold">VPR</text>
<text transform="translate(550.7,99.8) scale(0.8258,1)" font-size="31" fill="#0b6684" font-weight="bold">6xTIF2</text>
<path d="M208.3,53.78 C208.66,48.79 209.12,41.15 213.28,37.19 C217.45,33.23 226.81,30.37 233.28,30 C239.74,29.63 247.29,32.12 252.09,34.98 C256.9,37.85 260.08,42.77 262.12,47.2 C264.15,51.64 264.3,57.32 264.3,61.58 C264.3,65.85 264,70.2 262.12,72.77 C260.23,75.34 255.94,76.46 252.99,77 C250.04,77.54 247.71,76.55 244.42,76.01 C241.13,75.48 237.35,74.35 233.28,73.8 C229.2,73.26 223.64,73.84 219.95,72.72 C216.25,71.61 213.04,70.29 211.1,67.13 C209.16,63.97 207.94,58.77 208.3,53.78Z" fill="#c9c9c9" stroke="#a0a0a0" stroke-width="1.2"/>
<circle cx="231.6" cy="42.7" r="7.4" fill="#fff" stroke="#888" stroke-width="2" stroke-dasharray="3 1"/>
<path d="M311,58.79 C311.36,53.59 311.81,45.63 315.89,41.5 C319.98,37.36 329.18,34.38 335.53,34 C341.88,33.62 349.29,36.21 354.01,39.19 C358.73,42.18 361.86,47.31 363.86,51.93 C365.85,56.56 366,62.49 366,66.93 C366,71.37 365.71,75.91 363.86,78.59 C362,81.27 357.79,82.44 354.89,83 C351.99,83.56 349.7,82.53 346.48,81.97 C343.25,81.42 339.54,80.24 335.53,79.67 C331.52,79.1 326.07,79.7 322.44,78.54 C318.81,77.38 315.66,76 313.75,72.71 C311.84,69.42 310.64,64 311,58.79Z" fill="#c9c9c9" stroke="#a0a0a0" stroke-width="1.2"/>
<circle cx="333.2" cy="46.5" r="7.4" fill="#fff" stroke="#888" stroke-width="2" stroke-dasharray="3 1"/>
<path d="M427,59.79 C427.36,54.59 427.81,46.63 431.89,42.5 C435.98,38.36 445.18,35.38 451.53,35 C457.88,34.62 465.29,37.21 470.01,40.19 C474.73,43.18 477.86,48.31 479.86,52.93 C481.85,57.56 482,63.49 482,67.93 C482,72.37 481.71,76.91 479.86,79.59 C478,82.27 473.79,83.44 470.89,84 C467.99,84.56 465.7,83.53 462.48,82.97 C459.25,82.42 455.54,81.24 451.53,80.67 C447.52,80.1 442.07,80.7 438.44,79.54 C434.81,78.38 431.66,77 429.75,73.71 C427.84,70.42 426.64,65 427,59.79Z" fill="#c9c9c9" stroke="#a0a0a0" stroke-width="1.2"/>
<circle cx="450" cy="48.8" r="7.4" fill="#fff" stroke="#888" stroke-width="2" stroke-dasharray="3 1"/>
<path d="M265.41,95.19 C268.64,91.77 274.99,89.28 279.8,88.2 C284.61,87.12 289.07,87.37 294.25,88.71 C299.43,90.04 307.91,92.46 310.86,96.2 C313.82,99.95 312.74,106.7 312,111.2 C311.26,115.7 310.31,119.37 306.43,123.21 C302.54,127.04 294.4,132.95 288.68,134.2 C282.95,135.45 276.5,132.95 272.06,130.7 C267.62,128.46 263.99,124.39 262.05,120.72 C260.11,117.06 259.84,112.97 260.4,108.72 C260.96,104.46 262.17,98.61 265.41,95.19Z" fill="#c9c9c9" stroke="#a0a0a0" stroke-width="1.2"/>
<circle cx="278.7" cy="118.7" r="7.4" fill="#fff" stroke="#888" stroke-width="2" stroke-dasharray="3 1"/>
<path d="M367.14,98.14 C370.46,94.65 376.99,92.1 381.93,91 C386.87,89.9 391.45,90.15 396.77,91.52 C402.09,92.88 410.8,95.35 413.83,99.18 C416.87,103.01 415.76,109.9 415,114.5 C414.24,119.1 413.27,122.85 409.28,126.77 C405.28,130.68 396.93,136.72 391.04,138 C385.16,139.28 378.54,136.72 373.98,134.43 C369.42,132.13 365.69,127.97 363.7,124.23 C361.7,120.48 361.43,116.31 362,111.96 C362.57,107.61 363.82,101.64 367.14,98.14Z" fill="#c9c9c9" stroke="#a0a0a0" stroke-width="1.2"/>
<circle cx="381" cy="123" r="7.4" fill="#fff" stroke="#888" stroke-width="2" stroke-dasharray="3 1"/>
<path d="M484.04,100.57 C487.3,97.11 493.71,94.59 498.55,93.5 C503.4,92.41 507.89,92.66 513.11,94.01 C518.33,95.36 526.87,97.8 529.86,101.59 C532.84,105.38 531.75,112.2 531,116.75 C530.25,121.3 529.3,125.01 525.38,128.89 C521.47,132.76 513.27,138.74 507.5,140 C501.72,141.26 495.22,138.74 490.75,136.47 C486.28,134.2 482.62,130.08 480.66,126.38 C478.71,122.67 478.44,118.54 479,114.24 C479.56,109.94 480.79,104.02 484.04,100.57Z" fill="#c9c9c9" stroke="#a0a0a0" stroke-width="1.2"/>
<circle cx="497.4" cy="124.6" r="7.4" fill="#fff" stroke="#888" stroke-width="2" stroke-dasharray="3 1"/>
<path d="M210.12,78.8 L210.33,78.85 L210.55,78.99 L210.77,79.21 L210.99,79.51 L211.21,79.9 L211.45,80.36 L211.69,80.88 L211.94,81.47 L212.2,82.1 L212.47,82.78 L212.75,83.49 L213.05,84.23 L213.36,84.97 L213.69,85.72 L214.02,86.46 L214.38,87.18 L214.74,87.86 L215.12,88.51 L215.52,89.11 L215.92,89.66 L216.33,90.14 L216.76,90.54 L217.19,90.87 L217.63,91.12 L218.07,91.28 L218.52,91.36 L218.97,91.34 L219.42,91.24 L219.87,91.05 L220.32,90.78 L220.76,90.42 L221.2,90 L221.63,89.5 L222.04,88.94 L222.45,88.33 L222.85,87.67 L223.24,86.98 L223.61,86.26 L223.97,85.53 L224.31,84.8 L224.65,84.07 L224.96,83.36 L225.27,82.67 L225.56,82.02 L225.83,81.42 L226.1,80.88 L226.35,80.39 L226.6,79.98 L226.83,79.65 L227.06,79.39 L227.29,79.22 L227.51,79.13 L227.72,79.14 L227.94,79.23 L228.15,79.41 L228.37,79.68 L228.6,80.03 L228.83,80.45 L229.06,80.94 L229.31,81.5 L229.56,82.11 L229.83,82.77 L230.11,83.46 L230.4,84.19 L230.7,84.93 L231.02,85.68 L231.35,86.42 L231.7,87.15 L232.06,87.86 L232.43,88.52 L232.82,89.15 L233.22,89.72 L233.63,90.23 L234.05,90.68 L234.47,91.05 L234.91,91.33 L235.35,91.54 L235.8,91.66 L236.25,91.69 L236.7,91.63 L237.15,91.48 L237.6,91.25 L238.04,90.93 L238.48,90.54 L238.91,90.08 L239.34,89.55 L239.75,88.96 L240.15,88.32 L240.55,87.65 L240.93,86.94 L241.29,86.22 L241.64,85.48 L241.98,84.75 L242.31,84.03 L242.62,83.33 L242.91,82.66 L243.2,82.04 L243.47,81.46 L243.73,80.95 L243.98,80.5 L244.22,80.13 L244.45,79.83 L244.67,79.62 L244.9,79.49 L245.11,79.45 L245.33,79.5 L245.55,79.64 L245.76,79.86 L245.98,80.17 L246.21,80.56 L246.44,81.02 L246.68,81.54 L246.93,82.13 L247.19,82.77 L247.47,83.44 L247.75,84.16 L248.05,84.89 L248.36,85.63 L248.69,86.38 L249.02,87.12 L249.38,87.84 L249.74,88.53 L250.12,89.17 L250.52,89.77 L250.92,90.32 L251.34,90.79 L251.76,91.2 L252.19,91.53 L252.63,91.77 L253.08,91.93 L253.53,92.01 L253.98,91.99 L254.43,91.89 L254.88,91.7 L255.32,91.42 L255.76,91.07 L256.2,90.64 L256.63,90.14 L257.05,89.58 L257.45,88.97 L257.85,88.31 L258.24,87.62 L258.61,86.9 L258.97,86.17 L259.31,85.43 L259.64,84.71 L259.96,83.99 L260.27,83.31 L260.56,82.66 L260.83,82.06 L261.1,81.52 L261.35,81.04 L261.6,80.63 L261.83,80.29 L262.06,80.04 L262.28,79.87 L262.5,79.78 L262.72,79.79 L262.94,79.89 L263.15,80.07 L263.37,80.33 L263.6,80.68 L263.83,81.11 L264.06,81.6 L264.31,82.16 L264.56,82.77 L264.83,83.43 L265.11,84.13 L265.4,84.85 L265.7,85.59 L266.02,86.34 L266.35,87.08 L266.7,87.81 L267.06,88.52 L267.43,89.19 L267.82,89.81 L268.22,90.38 L268.63,90.89 L269.05,91.33 L269.48,91.7 L269.91,91.99 L270.35,92.19 L270.8,92.31 L271.25,92.34 L271.7,92.27 L272.15,92.13 L272.6,91.89 L273.04,91.58 L273.48,91.18 L273.91,90.72 L274.34,90.19 L274.75,89.6 L275.16,88.96 L275.55,88.29 L275.93,87.58 L276.29,86.85 L276.64,86.12 L276.98,85.39 L277.31,84.67 L277.61,83.97 L277.91,83.3 L278.19,82.68 L278.47,82.1 L278.73,81.59 L278.97,81.14 L279.21,80.77 L279.45,80.48 L279.67,80.26 L279.89,80.14 L280.11,80.1 L280.33,80.15 L280.54,80.29 L280.76,80.52 L280.98,80.83 L281.21,81.21 L281.44,81.68 L281.68,82.2 L281.93,82.79 L282.19,83.43 L282.47,84.11 L282.75,84.82 L283.05,85.55 L283.36,86.3 L283.69,87.05 L284.02,87.78 L284.38,88.5 L284.75,89.19 L285.13,89.84 L285.52,90.43 L285.92,90.98 L286.34,91.45 L286.76,91.86 L287.19,92.18 L287.63,92.43 L288.08,92.59 L288.53,92.66 L288.98,92.64 L289.43,92.53 L289.88,92.34 L290.32,92.07 L290.77,91.71 L291.2,91.28 L291.63,90.78 L292.05,90.22 L292.46,89.61 L292.85,88.95 L293.24,88.25 L293.61,87.54 L293.97,86.81 L294.31,86.07 L294.64,85.34 L294.96,84.63 L295.26,83.95 L295.55,83.3 L295.83,82.7 L296.1,82.16 L296.35,81.68 L296.59,81.27 L296.83,80.93 L297.06,80.68 L297.28,80.51 L297.5,80.43 L297.72,80.44 L297.93,80.54 L298.15,80.72 L298.37,80.99 L298.59,81.34 L298.82,81.77 L299.06,82.26 L299.31,82.82 L299.56,83.43 L299.83,84.09 L300.11,84.79 L300.4,85.52 L300.7,86.26 L301.02,87 L301.35,87.75 L301.7,88.48 L302.06,89.18 L302.43,89.85 L302.82,90.47 L303.22,91.04 L303.63,91.55 L304.05,91.99 L304.48,92.36 L304.91,92.64 L305.36,92.84 L305.8,92.96 L306.25,92.99 L306.7,92.92 L307.15,92.77 L307.6,92.54 L308.05,92.22 L308.48,91.82 L308.92,91.36 L309.34,90.83 L309.75,90.24 L310.16,89.6 L310.55,88.92 L310.93,88.22 L311.29,87.49 L311.64,86.76 L311.98,86.02 L312.3,85.3 L312.61,84.6 L312.91,83.94 L313.19,83.32 L313.46,82.74 L313.72,82.23 L313.97,81.79 L314.21,81.41 L314.44,81.12 L314.67,80.91 L314.89,80.79 L315.11,80.75 L315.32,80.8 L315.54,80.95 L315.76,81.17 L315.98,81.48 L316.21,81.87 L316.44,82.33 L316.68,82.86 L316.93,83.45 L317.19,84.09 L317.47,84.77 L317.75,85.48 L318.05,86.22 L318.36,86.96 L318.69,87.71 L319.02,88.45 L319.38,89.16 L319.75,89.85 L320.13,90.5 L320.52,91.1 L320.92,91.64 L321.34,92.11 L321.76,92.51 L322.2,92.84 L322.64,93.08 L323.08,93.24 L323.53,93.31 L323.98,93.29 L324.43,93.18 L324.88,92.99 L325.33,92.71 L325.77,92.35 L326.2,91.92 L326.63,91.42 L327.05,90.86 L327.46,90.24 L327.85,89.59 L328.24,88.89 L328.61,88.17 L328.97,87.44 L329.31,86.71 L329.64,85.98 L329.96,85.27 L330.26,84.59 L330.55,83.94 L330.83,83.34 L331.09,82.8 L331.35,82.32 L331.59,81.91 L331.83,81.58 L332.06,81.33 L332.28,81.16 L332.5,81.08 L332.72,81.09 L332.93,81.19 L333.15,81.38 L333.37,81.65 L333.59,82 L333.82,82.42 L334.06,82.92 L334.3,83.48 L334.56,84.1 L334.83,84.76 L335.11,85.45 L335.4,86.18 L335.7,86.92 L336.02,87.67 L336.35,88.41 L336.7,89.14 L337.06,89.84 L337.43,90.51 L337.82,91.13 L338.22,91.7 L338.63,92.21 L339.05,92.65 L339.48,93.01 L339.92,93.3 L340.36,93.5 L340.81,93.61 L341.26,93.63 L341.71,93.57 L342.16,93.42 L342.6,93.18 L343.05,92.86 L343.49,92.47 L343.92,92 L344.34,91.47 L344.76,90.88 L345.16,90.24 L345.55,89.56 L345.93,88.85 L346.29,88.13 L346.64,87.39 L346.98,86.66 L347.3,85.94 L347.61,85.24 L347.91,84.58 L348.19,83.95 L348.46,83.38 L348.72,82.87 L348.97,82.43 L349.21,82.06 L349.44,81.77 L349.67,81.56 L349.89,81.44 L350.11,81.4 L350.32,81.46 L350.54,81.6 L350.76,81.83 L350.98,82.14 L351.21,82.53 L351.44,82.99 L351.68,83.52 L351.93,84.11 L352.19,84.75 L352.46,85.43 L352.75,86.15 L353.05,86.88 L353.36,87.63 L353.69,88.37 L354.03,89.11 L354.38,89.83 L354.75,90.51 L355.13,91.16 L355.52,91.76 L355.93,92.29 L356.34,92.77 L356.77,93.17 L357.2,93.49 L357.64,93.73 L358.08,93.89 L358.53,93.96 L358.98,93.94 L359.43,93.83 L359.88,93.63 L360.33,93.35 L360.77,93 L361.2,92.56 L361.63,92.06 L362.05,91.5 L362.46,90.88 L362.86,90.22 L363.24,89.53 L363.61,88.81 L363.97,88.08 L364.31,87.34 L364.64,86.62 L364.96,85.91 L365.26,85.22 L365.55,84.58 L365.83,83.98 L366.09,83.44 L366.35,82.96 L366.59,82.56 L366.83,82.22 L367.06,81.97 L367.28,81.81 L367.5,81.73 L367.71,81.74 L367.93,81.84 L368.15,82.03 L368.37,82.3 L368.59,82.65 L368.82,83.08 L369.06,83.58 L369.3,84.14 L369.56,84.76 L369.83,85.42 L370.1,86.12 L370.4,86.84 L370.7,87.58 L371.02,88.33 L371.35,89.07 L371.7,89.8 L372.06,90.51 L372.44,91.17 L372.82,91.79 L373.22,92.36 L373.63,92.87 L374.05,93.31 L374.48,93.67 L374.92,93.95 L375.36,94.15 L375.81,94.26 L376.26,94.28 L376.71,94.22 L377.16,94.07 L377.61,93.83 L378.05,93.51 L378.49,93.11 L378.92,92.64 L379.34,92.11 L379.76,91.52 L380.16,90.88 L380.55,90.2 L380.93,89.49 L381.29,88.76 L381.64,88.03 L381.98,87.3 L382.3,86.58 L382.61,85.88 L382.91,85.22 L383.19,84.59 L383.46,84.02 L383.72,83.51 L383.97,83.07 L384.21,82.7 L384.44,82.41 L384.67,82.2 L384.89,82.08 L385.1,82.05 L385.32,82.11 L385.54,82.25 L385.75,82.48 L385.98,82.8 L386.2,83.19 L386.44,83.65 L386.68,84.18 L386.93,84.77 L387.19,85.41 L387.46,86.09 L387.75,86.81 L388.05,87.54 L388.36,88.29 L388.69,89.04 L389.03,89.77 L389.38,90.49 L389.75,91.17 L390.13,91.82 L390.52,92.42 L390.93,92.95 L391.34,93.43 L391.77,93.83 L392.2,94.15 L392.64,94.39 L393.08,94.54 L393.53,94.61 L393.98,94.59 L394.43,94.48 L394.88,94.28 L395.33,94 L395.77,93.64 L396.21,93.2 L396.63,92.7 L397.05,92.14 L397.46,91.52 L397.86,90.86 L398.24,90.17 L398.61,89.45 L398.97,88.72 L399.31,87.98 L399.64,87.25 L399.96,86.54 L400.26,85.86 L400.55,85.22 L400.83,84.62 L401.09,84.08 L401.35,83.6 L401.59,83.2 L401.82,82.87 L402.05,82.62 L402.28,82.46 L402.5,82.38 L402.71,82.39 L402.93,82.5 L403.14,82.68 L403.36,82.96 L403.59,83.31 L403.82,83.74 L404.06,84.24 L404.3,84.8 L404.56,85.42 L404.82,86.08 L405.1,86.78 L405.4,87.51 L405.7,88.25 L406.02,89 L406.35,89.74 L406.7,90.47 L407.06,91.17 L407.44,91.83 L407.82,92.46 L408.22,93.02 L408.63,93.53 L409.05,93.96 L409.48,94.33 L409.92,94.61 L410.36,94.8 L410.81,94.91 L411.26,94.93 L411.71,94.87 L412.16,94.71 L412.61,94.47 L413.05,94.15 L413.49,93.75 L413.92,93.28 L414.34,92.75 L414.76,92.15 L415.16,91.51 L415.55,90.84 L415.93,90.13 L416.29,89.4 L416.64,88.67 L416.98,87.93 L417.3,87.21 L417.61,86.52 L417.91,85.85 L418.19,85.23 L418.46,84.66 L418.72,84.16 L418.97,83.71 L419.21,83.35 L419.44,83.06 L419.66,82.85 L419.88,82.73 L420.1,82.7 L420.32,82.76 L420.53,82.91 L420.75,83.14 L420.97,83.45 L421.2,83.85 L421.43,84.31 L421.68,84.84 L421.93,85.43 L422.19,86.08 L422.46,86.76 L422.75,87.47 L423.05,88.21 L423.36,88.95 L423.69,89.7 L424.03,90.44 L424.38,91.15 L424.75,91.84 L425.13,92.48 L425.52,93.08 L425.93,93.61 L426.34,94.08 L426.77,94.48 L427.2,94.8 L427.64,95.04 L428.09,95.19 L428.54,95.26 L428.99,95.24 L429.44,95.12 L429.89,94.92 L430.33,94.64 L430.77,94.28 L431.21,93.84 L431.64,93.34 L432.05,92.78 L432.46,92.16 L432.86,91.5 L433.24,90.8 L433.61,90.09 L433.97,89.35 L434.31,88.62 L434.64,87.89 L434.96,87.18 L435.26,86.5 L435.55,85.86 L435.83,85.26 L436.09,84.72 L436.34,84.25 L436.59,83.84 L436.82,83.51 L437.05,83.27 L437.27,83.11 L437.49,83.03 L437.71,83.05 L437.93,83.15 L438.14,83.34 L438.36,83.61 L438.59,83.97 L438.82,84.4 L439.05,84.9 L439.3,85.46 L439.56,86.08 L439.82,86.74 L440.1,87.44 L440.4,88.17 L440.7,88.91 L441.02,89.66 L441.35,90.4 L441.7,91.13 L442.06,91.83 L442.44,92.5 L442.82,93.12 L443.22,93.68 L443.64,94.19 L444.06,94.62 L444.49,94.98 L444.92,95.26 L445.36,95.46 L445.81,95.56 L446.26,95.58 L446.71,95.51 L447.16,95.36 L447.61,95.12 L448.05,94.79 L448.49,94.39 L448.92,93.92 L449.35,93.39 L449.76,92.79 L450.16,92.15 L450.55,91.47 L450.93,90.77 L451.29,90.04 L451.64,89.3 L451.98,88.57 L452.3,87.85 L452.61,87.16 L452.91,86.49 L453.19,85.87 L453.46,85.3 L453.72,84.8 L453.97,84.36 L454.21,83.99 L454.44,83.7 L454.66,83.5 L454.88,83.38 L455.1,83.35 L455.32,83.41 L455.53,83.56 L455.75,83.79 L455.97,84.11 L456.2,84.5 L456.43,84.97 L456.67,85.5 L456.93,86.1 L457.19,86.74 L457.46,87.42 L457.75,88.13 L458.05,88.87 L458.36,89.62 L458.69,90.36 L459.03,91.1 L459.38,91.81 L459.75,92.5 L460.13,93.14 L460.52,93.74 L460.93,94.27 L461.35,94.74 L461.77,95.14 L462.2,95.46 L462.64,95.7 L463.09,95.85 L463.54,95.91 L463.99,95.88 L464.44,95.77 L464.89,95.57 L465.33,95.29 L465.77,94.92 L466.21,94.49 L466.64,93.98 L467.05,93.42 L467.46,92.8 L467.86,92.14 L468.24,91.44 L468.61,90.72 L468.97,89.99 L469.31,89.25 L469.64,88.53 L469.96,87.82 L470.26,87.14 L470.55,86.5 L470.83,85.9 L471.09,85.36 L471.34,84.89 L471.59,84.49 L471.82,84.16 L472.05,83.91 L472.27,83.75 L472.49,83.68 L472.71,83.7 L472.92,83.8 L473.14,83.99 L473.36,84.27 L473.58,84.63 L473.81,85.06 L474.05,85.56 L474.3,86.12 L474.55,86.74 L474.82,87.41 L475.1,88.11 L475.39,88.83 L475.7,89.57 L476.02,90.32 L476.35,91.06 L476.7,91.79 L477.06,92.49 L477.44,93.16 L477.83,93.78 L478.23,94.34 L478.64,94.85 L479.06,95.28 L479.49,95.64 L479.92,95.92 L480.37,96.11 L480.81,96.22 L481.26,96.23 L481.71,96.16 L482.16,96 L482.61,95.76 L483.06,95.44 L483.49,95.03 L483.93,94.56 L484.35,94.03 L484.76,93.43 L485.16,92.79 L485.55,92.11 L485.93,91.4 L486.29,90.68 L486.64,89.94 L486.98,89.21 L487.3,88.49 L487.61,87.79 L487.91,87.13 L488.19,86.51 L488.46,85.94 L488.72,85.44 L488.96,85 L489.2,84.63 L489.44,84.35 L489.66,84.15 L489.88,84.03 L490.1,84 L490.31,84.06 L490.53,84.21 L490.75,84.45 L490.97,84.77 L491.2,85.16 L491.43,85.63 L491.67,86.16 L491.92,86.76 L492.19,87.4 L492.46,88.08 L492.75,88.8 L493.05,89.53 L493.36,90.28 L493.69,91.03 L494.03,91.76 L494.38,92.48 L494.75,93.16 L495.13,93.8 L495.53,94.4 L495.93,94.93 L496.35,95.4 L496.77,95.8 L497.21,96.11 L497.65,96.35 L498.09,96.5 L498.54,96.56 L498.99,96.53 L499.44,96.42 L499.89,96.22 L500.34,95.93 L500.78,95.57 L501.21,95.13 L501.64,94.62 L502.06,94.05 L502.46,93.44 L502.86,92.77 L503.24,92.08 L503.61,91.36 L503.97,90.63 L504.31,89.89 L504.64,89.16 L504.96,88.46 L505.26,87.78 L505.55,87.13 L505.82,86.54 L506.09,86 L506.34,85.53 L506.58,85.13 L506.82,84.8 L507.05,84.56 L507.27,84.4 L507.49,84.33 L507.71,84.35 L507.92,84.45 L508.14,84.65 L508.36,84.92 L508.58,85.28 L508.81,85.72 L509.05,86.22 L509.3,86.78 L509.55,87.4 L509.82,88.07 L510.1,88.77 L510.39,89.5 L510.7,90.24 L511.02,90.99 L511.35,91.73 L511.7,92.45 L512.06,93.15 L512.44,93.82 L512.83,94.44 L513.23,95 L513.64,95.5 L514.06,95.94 L514.49,96.29 L514.93,96.57 L515.37,96.76 L515.82,96.87 L516.27,96.88 L516.72,96.81 L517.17,96.65 L517.61,96.41 L518.06,96.08 L518.5,95.68 L518.93,95.2 L519.35,94.66 L519.76,94.07 L520.16,93.43 L520.55,92.75 L520.93,92.04 L521.29,91.31 L521.64,90.58 L521.98,89.84 L522.3,89.13 L522.61,88.43 L522.91,87.77 L523.19,87.15 L523.46,86.58 L523.72,86.08 L523.96,85.64 L524.2,85.28 L524.43,84.99 L524.66,84.79 L524.88,84.68 L525.1,84.65 L525.31,84.72 L525.53,84.87 L525.75,85.1 L525.97,85.42 L526.2,85.82 L526.43,86.29 L526.67,86.82 L526.92,87.42 L527.19,88.06 L527.46,88.75 L527.75,89.46 L528.04,90.2 L528.36,90.94 L528.69,91.69 L529.03,92.43 L529.38,93.14 L529.75,93.82 L530.13,94.47 L530.53,95.06 L530.93,95.59 L531.35,96.06 L531.77,96.45 L532.21,96.77 L532.65,97" fill="none" stroke="#1688a8" stroke-width="4.6" stroke-linecap="round" stroke-linejoin="round"/>
<path d="M246,87 L248.31,87.51 L250.35,87.82 L251.9,87.74 L252.81,87.18 L253.03,86.08 L252.63,84.5 L251.76,82.56 L250.66,80.44 L249.6,78.36 L248.85,76.51 L248.61,75.06 L249.02,74.11 L250.13,73.69 L251.83,73.74 L253.98,74.12 L256.31,74.66 L258.57,75.13 L260.49,75.34 L261.87,75.14 L262.58,74.42 L262.62,73.17 L262.06,71.47 L261.1,69.47 L259.98,67.34 L258.99,65.3 L258.36,63.55 L258.3,62.23 L258.91,61.43 L260.2,61.16 L262.05,61.32 L264.28,61.77 L266.62,62.31 L268.81,62.72 L270.59,62.83 L271.79,62.48 L272.3,61.61 L272.15,60.23 L271.46,58.42 L270.43,56.36 L269.32,54.24 L268.4,52.26 L267.92,50.62 L268.05,49.45 L268.86,48.81" fill="none" stroke="#ff30c8" stroke-width="4.8" stroke-linecap="round" stroke-linejoin="round"/>
<path d="M345,88.6 L347.23,89.42 L349.23,89.99 L350.79,90.12 L351.79,89.67 L352.18,88.6 L352.02,86.96 L351.46,84.9 L350.69,82.63 L349.96,80.4 L349.49,78.44 L349.48,76.95 L350.04,76.05 L351.21,75.78 L352.91,76.05 L355,76.72 L357.26,77.56 L359.44,78.33 L361.33,78.8 L362.74,78.77 L363.57,78.14 L363.79,76.9 L363.5,75.12 L362.86,72.97 L362.07,70.69 L361.39,68.51 L361.04,66.67 L361.19,65.34 L361.92,64.63 L363.26,64.52 L365.09,64.92 L367.24,65.66 L369.5,66.51 L371.63,67.22 L373.4,67.56 L374.65,67.37 L375.3,66.56 L375.37,65.15 L374.95,63.25 L374.24,61.04 L373.47,58.76 L372.86,56.66 L372.63,54.95 L372.94,53.79 L373.85,53.25" fill="none" stroke="#ff30c8" stroke-width="4.8" stroke-linecap="round" stroke-linejoin="round"/>
<path d="M465,88.6 L467.2,89.38 L469.16,89.92 L470.66,90.04 L471.56,89.62 L471.83,88.6 L471.53,87.04 L470.79,85.09 L469.84,82.93 L468.93,80.81 L468.3,78.95 L468.14,77.54 L468.6,76.69 L469.68,76.42 L471.33,76.68 L473.38,77.32 L475.6,78.12 L477.76,78.85 L479.6,79.29 L480.94,79.27 L481.67,78.67 L481.76,77.49 L481.32,75.8 L480.5,73.77 L479.53,71.6 L478.67,69.53 L478.16,67.78 L478.17,66.52 L478.81,65.84 L480.06,65.74 L481.85,66.12 L483.97,66.82 L486.2,67.63 L488.29,68.3 L490.01,68.63 L491.18,68.44 L491.72,67.68 L491.65,66.34 L491.08,64.53 L490.19,62.44 L489.23,60.27 L488.45,58.27 L488.07,56.65 L488.25,55.55 L489.07,55.04" fill="none" stroke="#ff30c8" stroke-width="4.8" stroke-linecap="round" stroke-linejoin="round"/>
<path d="M304.7,84 L303.21,85.85 L302.03,87.55 L301.41,88.99 L301.52,90.07 L302.41,90.78 L304.01,91.15 L306.14,91.26 L308.53,91.25 L310.88,91.25 L312.88,91.43 L314.29,91.89 L314.96,92.7 L314.85,93.89 L314.04,95.41 L312.74,97.17 L311.23,99.04 L309.8,100.86 L308.75,102.49 L308.33,103.83 L308.66,104.81 L309.76,105.42 L311.54,105.7 L313.77,105.76 L316.18,105.74 L318.46,105.78 L320.32,106.03 L321.52,106.58 L321.97,107.5 L321.64,108.79 L320.68,110.39 L319.28,112.2 L317.76,114.07 L316.41,115.85 L315.52,117.41 L315.3,118.65 L315.86,119.52 L317.17,120.03 L319.1,120.23 L321.42,120.26 L323.82,120.24 L326.01,120.32 L327.7,120.65 L328.7,121.3 L328.92,122.34" fill="none" stroke="#ff30c8" stroke-width="4.8" stroke-linecap="round" stroke-linejoin="round"/>
<path d="M411,88.6 L409.33,90.26 L407.98,91.81 L407.22,93.14 L407.21,94.19 L408.01,94.93 L409.56,95.4 L411.65,95.67 L414.02,95.84 L416.34,96.02 L418.31,96.34 L419.65,96.88 L420.23,97.71 L419.99,98.84 L419.04,100.24 L417.57,101.83 L415.87,103.51 L414.26,105.15 L413.05,106.64 L412.49,107.9 L412.71,108.86 L413.74,109.52 L415.47,109.93 L417.67,110.15 L420.06,110.31 L422.31,110.52 L424.12,110.89 L425.26,111.51 L425.6,112.43 L425.14,113.65 L424.01,115.11 L422.45,116.74 L420.74,118.42 L419.22,120.03 L418.18,121.46 L417.83,122.63 L418.29,123.51 L419.53,124.09 L421.42,124.43 L423.71,124.63 L426.09,124.79 L428.24,125.03 L429.88,125.47 L430.8,126.17 L430.9,127.18" fill="none" stroke="#ff30c8" stroke-width="4.8" stroke-linecap="round" stroke-linejoin="round"/>
<path d="M526.7,90 L525.08,91.72 L523.78,93.31 L523.06,94.68 L523.08,95.74 L523.91,96.48 L525.47,96.92 L527.58,97.15 L529.96,97.26 L532.29,97.4 L534.26,97.68 L535.63,98.2 L536.23,99.03 L536.03,100.18 L535.12,101.62 L533.69,103.26 L532.05,105 L530.49,106.69 L529.33,108.23 L528.8,109.51 L529.06,110.48 L530.11,111.13 L531.85,111.5 L534.06,111.69 L536.46,111.8 L538.72,111.96 L540.55,112.3 L541.7,112.91 L542.08,113.83 L541.66,115.07 L540.57,116.57 L539.05,118.26 L537.4,119.99 L535.92,121.65 L534.92,123.13 L534.61,124.32 L535.1,125.2 L536.36,125.76 L538.27,126.07 L540.57,126.22 L542.96,126.33 L545.12,126.53 L546.77,126.94 L547.71,127.64 L547.85,128.65" fill="none" stroke="#ff30c8" stroke-width="4.8" stroke-linecap="round" stroke-linejoin="round"/>
<path d="M273,52 C274,45 276.7,48 279.7,45" fill="none" stroke="#555" stroke-width="1.3"/>
<path d="M377.5,57 C378.5,50 384,49.5 387,46.5" fill="none" stroke="#555" stroke-width="1.3"/>
<path d="M492.9,58.6 C493.9,51.6 495.6,50.3 498.6,47.3" fill="none" stroke="#555" stroke-width="1.3"/>
<path d="M324.2,124.6 C324.2,131.6 324.5,139.4 326.5,137.4" fill="none" stroke="#555" stroke-width="1.3"/>
<path d="M426,129 C426,136 424.8,141 426.8,139" fill="none" stroke="#555" stroke-width="1.3"/>
<path d="M543,130.6 C543,137.6 540.4,141 542.4,139" fill="none" stroke="#555" stroke-width="1.3"/>
<circle cx="292.7" cy="42" r="12.3" fill="#d8fdd8" stroke="#10ee10" stroke-width="5.8"/>
<circle cx="400" cy="43.5" r="12.3" fill="#d8fdd8" stroke="#10ee10" stroke-width="5.8"/>
<circle cx="511.6" cy="44.3" r="12.3" fill="#d8fdd8" stroke="#10ee10" stroke-width="5.8"/>
<circle cx="338.5" cy="143.4" r="12.3" fill="#d8fdd8" stroke="#10ee10" stroke-width="5.8"/>
<circle cx="438.8" cy="145" r="12.3" fill="#d8fdd8" stroke="#10ee10" stroke-width="5.8"/>
<circle cx="554.4" cy="145" r="12.3" fill="#d8fdd8" stroke="#10ee10" stroke-width="5.8"/>
<path d="M190.8,140.4 C193,170 210,192 242,200.5" fill="none" stroke="#000" stroke-width="4.6"/>
<path d="M241.1,188.6 L264,202 L239.4,211.9 Z" fill="#000"/>
<path d="M452,229.3 C485,230 512,248 520,274" fill="none" stroke="#000" stroke-width="4.6"/>
<path d="M506,273.6 L529.8,268.8 L522.6,294.3 Z" fill="#000"/>
<text transform="translate(631,209) translate(-92.75,0) scale(0.8347,1)" font-size="31" fill="#10ee10" font-weight="bold">Transcriptional</text>
<text transform="translate(631.2,245.8) translate(-59.35,0) scale(0.8203,1)" font-size="31" fill="#10ee10" font-weight="bold">activation</text>
<text transform="translate(631.5,283.4) translate(-88.55,0) scale(0.8291,1)" font-size="31" fill="#10ee10" font-weight="bold">complex/LLPS</text>
<text transform="translate(150.6,284.4) scale(1.0462,1)" font-size="25">cccTag</text>
<text transform="translate(154.4,321) scale(1.0281,1)" font-size="25">dCas9</text>
<path d="M302,263 C291,270 286,287 286,310 C286,334 291,350 302,357.6" fill="none" stroke="#444" stroke-width="2"/>
<path d="M384,263 C395,270 399,287 399,310 C399,334 395,350 384,357.6" fill="none" stroke="#444" stroke-width="2"/>
<text transform="translate(327.4,284.4) scale(0.9778,1)" font-size="25" fill="#666" font-weight="bold">P3</text>
<text transform="translate(401.7,367.5) scale(0.8846,1)" font-size="25">n</text>
<path d="M224.9,366 C226,360 229,357 233,357" fill="none" stroke="#555" stroke-width="4.2"/>
<path d="M233,357 L233.98,357.74 L234.92,358.42 L235.8,358.98 L236.59,359.36 L237.25,359.54 L237.79,359.49 L238.2,359.18 L238.47,358.64 L238.61,357.87 L238.66,356.9 L238.62,355.8 L238.53,354.6 L238.42,353.37 L238.33,352.17 L238.29,351.06 L238.34,350.1 L238.48,349.33 L238.75,348.79 L239.16,348.48 L239.7,348.43 L240.37,348.61 L241.15,349 L242.03,349.56 L242.98,350.24 L243.95,350.97 L244.93,351.71 L245.88,352.39 L246.75,352.95 L247.54,353.34 L248.21,353.51 L248.75,353.46 L249.15,353.15 L249.42,352.61 L249.56,351.83 L249.61,350.87 L249.57,349.76 L249.48,348.56 L249.37,347.33 L249.28,346.14 L249.24,345.03 L249.29,344.07 L249.43,343.3 L249.7,342.76 L250.11,342.45 L250.65,342.4 L251.32,342.58 L252.11,342.97 L252.99,343.53 L253.93,344.21 L254.91,344.95 L255.89,345.69 L256.83,346.37 L257.71,346.92 L258.49,347.31 L259.16,347.49 L259.7,347.43 L260.1,347.12 L260.37,346.57 L260.52,345.8 L260.56,344.84 L260.52,343.73 L260.43,342.53 L260.32,341.3 L260.23,340.1 L260.19,339 L260.24,338.04 L260.38,337.27 L260.66,336.72 L261.06,336.42 L261.6,336.37 L262.27,336.55 L263.06,336.94 L263.94,337.51 L264.89,338.18 L265.86,338.92 L266.84,339.66 L267.78,340.34 L268.66,340.9 L269.44,341.28 L270.11,341.46 L270.65,341.4 L271.05,341.09 L271.32,340.54 L271.47,339.77 L271.51,338.8 L271.47,337.69 L271.38,336.5 L271.27,335.27 L271.18,334.07 L271.14,332.96 L271.19,332 L271.34,331.24 L271.61,330.69 L272.01,330.39 L272.56,330.34 L273.23,330.53 L274.01,330.92 L274.89,331.48 L275.84,332.16 L276.82,332.9 L277.8,333.64 L278.74,334.31 L279.62,334.87 L280.4,335.25 L281.07,335.43 L281.6,335.37 L282,335.06 L282.27,334.51 L282.42,333.74 L282.46,332.77 L282.42,331.66 L282.33,330.46 L282.22,329.23 L282.13,328.03 L282.09,326.93 L282.14,325.97 L282.29,325.21 L282.56,324.66 L282.97,324.37 L283.51,324.31 L284.18,324.5 L284.94,324.91 L285.83,325.46 L286.78,326.13 L287.76,326.86 L288.75,327.59 L289.7,328.25 L290.58,328.8 L291.37,329.18 L292.04,329.34 L292.57,329.28 L292.97,328.96 L293.23,328.41 L293.37,327.63 L293.4,326.66 L293.34,325.55 L293.24,324.36 L293.12,323.13 L293.02,321.93 L292.97,320.83 L293.01,319.87 L293.15,319.1 L293.42,318.56 L293.82,318.26 L294.36,318.2 L295.04,318.38 L295.83,318.77 L296.72,319.32 L297.67,319.99 L298.66,320.72 L299.64,321.45 L300.59,322.11 L301.47,322.66 L302.26,323.03 L302.93,323.2 L303.46,323.13 L303.86,322.82 L304.12,322.26 L304.25,321.48 L304.28,320.52 L304.23,319.41 L304.13,318.21 L304.01,316.98 L303.91,315.78 L303.86,314.68 L303.9,313.72 L304.04,312.96 L304.31,312.41 L304.71,312.11 L305.25,312.06 L305.93,312.24 L306.72,312.63 L307.61,313.18 L308.56,313.85 L309.55,314.58 L310.53,315.31 L311.48,315.97 L312.36,316.52 L313.15,316.89 L313.82,317.06 L314.35,316.99 L314.75,316.67 L315.01,316.12 L315.14,315.34 L315.17,314.37 L315.12,313.26 L315.01,312.06 L314.9,310.83 L314.8,309.64 L314.75,308.53 L314.78,307.58 L314.92,306.81 L315.19,306.27 L315.6,305.97 L316.14,305.92 L316.82,306.1 L317.61,306.49 L318.5,307.04 L319.45,307.71 L320.44,308.44 L321.42,309.17 L322.37,309.83 L323.25,310.38 L324.04,310.75 L324.7,310.92 L325.24,310.85 L325.64,310.53 L325.89,309.97 L326.03,309.19 L326.06,308.22 L326,307.11 L325.9,305.91 L325.78,304.68 L325.68,303.49 L325.63,302.39 L325.67,301.43 L325.81,300.67 L326.08,300.13 L326.49,299.83 L327.03,299.78 L327.71,299.96 L328.5,300.35" fill="none" stroke="#555" stroke-width="4.6" stroke-linecap="round" stroke-linejoin="round"/>
<path d="M330,303 L330.5,303.04 L331,303.08 L331.5,303.12 L332,303.15 L332.5,303.19 L333,303.23 L333.5,303.27 L334,303.31 L334.5,303.35 L335,303.38 L335.5,303.42 L336,303.46 L336.5,303.5 L337,303.54 L337.5,303.58 L338,303.62 L338.5,303.65 L339,303.69 L339.5,303.73 L340,303.77 L340.5,303.81 L341,303.85 L341.5,303.88 L342,303.92 L342.5,303.96 L343,304" fill="none" stroke="#666" stroke-width="4.2" stroke-linecap="round" stroke-linejoin="round"/>
<path d="M343,304 L342.9,305.23 L342.83,306.4 L342.84,307.44 L342.93,308.31 L343.14,308.97 L343.49,309.39 L343.97,309.56 L344.59,309.48 L345.33,309.18 L346.17,308.69 L347.09,308.05 L348.07,307.32 L349.05,306.57 L350.02,305.85 L350.93,305.23 L351.76,304.76 L352.48,304.49 L353.08,304.46 L353.54,304.66 L353.86,305.12 L354.05,305.82 L354.13,306.72 L354.12,307.79 L354.05,308.97 L353.95,310.2 L353.85,311.43 L353.79,312.58 L353.81,313.6 L353.92,314.44 L354.15,315.06 L354.52,315.44 L355.02,315.57 L355.66,315.46 L356.42,315.12 L357.27,314.6 L358.21,313.94 L359.19,313.21 L360.17,312.46 L361.13,311.75 L362.03,311.15 L362.85,310.71 L363.55,310.48 L359.91,310.25 L360.36,310.02 L360.94,310.05 L361.65,310.31 L362.46,310.77 L363.35,311.4 L364.3,312.13 L365.27,312.9 L366.23,313.65 L367.14,314.32 L367.99,314.85 L368.73,315.19 L369.36,315.31 L369.86,315.17 L370.22,314.79 L370.46,314.16 L370.59,313.31 L370.62,312.28 L370.58,311.12 L370.51,309.89 L370.44,308.66 L370.39,307.48 L370.4,306.42 L370.51,305.53 L370.72,304.85 L371.06,304.42 L371.53,304.23 L372.13,304.3 L372.86,304.59 L373.68,305.09 L374.58,305.73 L375.54,306.47 L376.51,307.25 L377.46,307.99 L378.37,308.64 L379.2,309.14 L379.93,309.45 L380.53,309.53 L381.01,309.35 L381.36,308.93 L381.57,308.26 L381.68,307.38 L381.7,306.33 L381.66,305.15 L381.58,303.92 L381.51,302.69 L381.47,301.53 L381.5,300.49 L381.62,299.63 L381.85,298.99 L382.21,298.59 L382.7,298.45 L383.33,298.55 L384.06,298.88 L384.9,299.4 L385.82,300.07 L386.78,300.82 L387.75,301.59 L388.7,302.32 L389.59,302.95 L390.41,303.43 L391.12,303.7 L391.7,303.74 L392.16,303.53 L392.48,303.06 L392.68,302.36 L392.78,301.45 L392.78,300.37 L392.73,299.18 L392.66,297.95 L392.59,296.72 L392.56,295.58 L392.6,294.57 L392.73,293.74 L392.99,293.14" fill="none" stroke="#555" stroke-width="4.6" stroke-linecap="round" stroke-linejoin="round"/>
<path d="M395,297 L395.48,296.81 L395.95,296.62 L396.43,296.43 L396.9,296.24 L397.38,296.05 L397.86,295.86 L398.33,295.67 L398.81,295.48 L399.29,295.29 L399.76,295.1 L400.24,294.9 L400.71,294.71 L401.19,294.52 L401.67,294.33 L402.14,294.14 L402.62,293.95 L403.1,293.76 L403.57,293.57 L404.05,293.38 L404.52,293.19 L405,293" fill="none" stroke="#666" stroke-width="4.2" stroke-linecap="round" stroke-linejoin="round"/>
<path d="M405,293 L405.72,294 L406.42,294.93 L407.09,295.73 L407.73,296.33 L408.31,296.7 L408.85,296.8 L409.32,296.63 L409.74,296.18 L410.11,295.47 L410.44,294.56 L410.73,293.48 L411,292.3 L411.27,291.1 L411.54,289.92 L411.84,288.86 L412.17,287.96 L412.54,287.28 L412.97,286.86 L413.45,286.7 L413.99,286.83 L414.58,287.22 L415.22,287.85 L415.89,288.66 L416.6,289.6 L417.31,290.6 L418.03,291.6 L418.73,292.52 L419.4,293.3 L420.03,293.88 L420.61,294.23 L421.14,294.31 L421.61,294.11 L422.03,293.63 L422.39,292.91 L422.71,291.98 L423.01,290.89 L423.28,289.7 L423.54,288.5 L423.82,287.33 L424.12,286.28 L424.45,285.4 L424.83,284.74 L425.26,284.34 L425.75,284.21 L426.29,284.37 L426.88,284.78 L427.53,285.42 L428.21,286.25 L428.91,287.2 L429.63,288.2 L430.34,289.19 L431.04,290.11 L431.71,290.87 L432.33,291.44 L432.91,291.76 L433.43,291.81 L433.9,291.58 L434.31,291.09 L434.67,290.34 L434.99,289.39 L435.28,288.29 L435.55,287.1 L435.82,285.9 L436.09,284.74 L436.39,283.7 L436.73,282.84 L437.11,282.2 L437.55,281.83 L438.04,281.73 L438.59,281.9 L439.19,282.34 L439.84,283 L440.52,283.84 L441.23,284.79 L441.94,285.8 L442.66,286.79 L443.35,287.69 L444.02,288.44 L444.64,288.98 L445.21,289.28 L445.73,289.31 L446.19,289.06 L446.6,288.54 L446.95,287.77 L447.27,286.81 L447.55,285.7 L447.82,284.5 L448.09,283.3 L448.37,282.15 L448.67,281.12 L449.01,280.28 L449.4,279.67 L449.84,279.31 L450.34,279.24 L450.89,279.44 L451.5,279.9 L452.15,280.58" fill="none" stroke="#555" stroke-width="4.6" stroke-linecap="round" stroke-linejoin="round"/>
<path d="M176.1,398.7 C176.45,393.45 177.48,385.65 180.2,380.4 C182.92,375.15 187.67,370.08 192.4,367.2 C197.13,364.32 203.53,363.27 208.6,363.1 C213.67,362.93 218.73,364.17 222.8,366.2 C226.87,368.23 230.28,371.58 233,375.3 C235.72,379.02 237.92,383.92 239.1,388.5 C240.28,393.08 239.87,399.13 240.1,402.8 C240.33,406.47 239.32,408.47 240.5,410.5 C241.68,412.53 245.23,413.07 247.2,415 C249.17,416.93 251.28,419.9 252.3,422.1 C253.32,424.3 254.15,426.17 253.3,428.2 C252.45,430.23 251.08,432.67 247.2,434.3 C243.32,435.93 234.73,436.13 230,438 C225.27,439.87 222.03,444.93 218.8,445.5 C215.57,446.07 212.8,442.6 210.6,441.4 C208.4,440.2 208.13,439.48 205.6,438.3 C203.07,437.12 198.8,436.67 195.4,434.3 C192,431.93 188.08,427.83 185.2,424.1 C182.32,420.37 179.62,416.13 178.1,411.9 C176.58,407.67 175.75,403.95 176.1,398.7Z" fill="url(#cas)" stroke="#6a6a6a" stroke-width="1.5"/>
<g transform="translate(0,0)">
<path d="M255.4,429.7 L236,429.5 C229,425 224,416 221.5,405 C219.5,395 220,381 216,375.5 C212,371.5 206,374 206.5,382 C207,392 211,403 214.5,412 C212,417 205,414 197,408 C191,403 186,399.5 183.5,402.5 C181.5,406.5 189,412 197,417 C202,420 206,423 209,426" fill="none" stroke="#111" stroke-width="1.9"/>
<path d="M213.3,390 L217.3,412" fill="none" stroke="#444" stroke-width="2.6" stroke-dasharray="0.7 1.3"/>
<path d="M193,410.5 L205,419" fill="none" stroke="#444" stroke-width="2.6" stroke-dasharray="0.7 1.3"/>
<rect x="219.4" y="435.8" width="125.6" height="16.5" fill="#7a7a7a"/>
<rect x="227.6" y="428.5" width="5.4" height="27.8" fill="#4a4a4a"/>
<rect x="238.7" y="433" width="41" height="23.3" rx="4" fill="#eeeeee" stroke="#b0b0b0" stroke-width="1"/>
<circle cx="307.4" cy="443.5" r="10.3" fill="#fff" stroke="#444" stroke-width="2"/>
<path d="M345,427.4 L399.5,427.4 L409.5,443.5 L399.5,459.6 L345,459.6 Z" fill="#fff" stroke="#555" stroke-width="3"/>
<text transform="translate(353,453) scale(0.9259,1)" font-size="24" font-style="italic">fLuc</text>
</g>
<text transform="translate(295.2,416.3) scale(0.9568,1)" font-size="23" fill="#888" font-weight="bold">OFF</text>
<text transform="translate(213.2,481.8) scale(0.9009,1)" font-size="28" font-weight="bold">1x[ab]</text>
<text transform="translate(293,474) scale(0.9062,1)" font-size="20">pMIN</text>
<ellipse cx="629.2" cy="391.7" rx="74.3" ry="70.3" fill="#d6fbd6" stroke="#505050" stroke-width="5.5" stroke-dasharray="24 17" stroke-dashoffset="12"/>
<path d="M571,349 L571.31,350.02 L571.68,350.69 L572.18,350.78 L572.78,350.31 L573.46,349.48 L574.14,348.65 L574.74,348.19 L575.23,348.3 L575.61,348.98 L575.91,350.01 L576.22,351.03 L576.6,351.68 L577.1,351.76 L577.71,351.27 L578.38,350.43 L579.06,349.62 L579.66,349.17 L580.15,349.29 L580.52,349.99 L580.82,351.02 L581.13,352.03 L581.51,352.67 L582.01,352.73 L582.63,352.23 L583.31,351.39 L583.98,350.58 L584.58,350.14 L585.06,350.29 L585.43,351 L585.73,352.03 L585.94,353.04 L586.26,353.7 L586.76,353.79 L587.42,353.34 L588.18,352.57 L588.93,351.83 L589.57,351.47 L590.03,351.68 L590.32,352.43 L590.52,353.5 L590.73,354.53 L591.05,355.17 L591.55,355.25 L592.22,354.78 L592.98,354.01 L593.73,353.28 L594.36,352.93 L594.82,353.16 L595.11,353.93 L595.3,355 L595.51,356.02 L595.85,356.65 L596.35,356.71 L597.02,356.23 L597.79,355.45 L598.53,354.73 L599.16,354.4 L599.61,354.64 L599.89,355.42 L600.09,356.49 L600.3,357.51 L600.64,358.12 L601.15,358.17 L601.82,357.68 L602.59,356.89 L603.33,356.18 L603.95,355.86 L604.4,356.12 L604.68,356.91 L604.52,358.09 L603.83,358.85 L603.54,359.48 L603.81,359.91 L604.62,360.17 L605.7,360.34 L606.71,360.53 L607.31,360.86 L607.34,361.38 L606.85,362.07 L606.08,362.86 L605.4,363.61 L605.12,364.24 L605.41,364.67 L606.23,364.92 L607.31,365.09 L608.31,365.28 L608.9,365.62 L608.92,366.14 L608.41,366.84 L607.64,367.62 L606.96,368.38 L606.7,368.99 L607.01,369.42 L607.84,369.67 L608.93,369.84 L609.92,370.03 L610.49,370.37 L610.49,370.9 L609.97,371.6 L609.2,372.39 L608.53,373.14 L608.28,373.75 L608.61,374.17 L609.45,374.42 L610.54,374.58 L611.52,374.79 L612.08,375.13 L612.06,375.66 L611.54,376.37 L610.76,377.15 L610.1,377.9 L609.86,378.51 L610.2,378.92 L611.06,379.17 L612.07,379.53 L612.75,380.26 L612.99,380.85 L612.66,381.27 L611.81,381.54 L610.72,381.74 L609.75,381.97 L609.23,382.34 L609.28,382.88 L609.85,383.57 L610.65,384.34 L611.33,385.06 L611.56,385.66 L611.2,386.07 L610.34,386.34 L609.25,386.54 L608.29,386.77 L607.78,387.14 L607.86,387.69 L608.43,388.38 L609.24,389.15 L609.9,389.87 L610.12,390.46 L609.75,390.87 L608.88,391.13 L607.78,391.33 L606.84,391.57 L606.34,391.94 L606.43,392.49 L607.02,393.19 L607.82,393.96 L608.48,394.68 L608.68,395.26 L608.29,395.67 L607.41,395.93 L606.32,396.12 L605.38,396.37 L604.9,396.75 L605,397.3 L605.6,398 L606.41,398.77 L607.05,399.49 L607.24,400.07 L606.84,400.47 L605.94,400.72 L604.85,400.92 L603.92,401.16 L603.46,401.55 L603.58,402.11 L604.19,402.81 L604.81,403.73 L605.04,404.66 L604.91,405.25 L604.36,405.4 L603.44,405.2 L602.39,404.85 L601.46,404.63 L600.88,404.76 L600.73,405.32 L600.94,406.24 L601.29,407.3 L601.5,408.22 L601.37,408.8 L600.8,408.93 L599.88,408.72 L598.82,408.38 L597.9,408.16 L597.33,408.31 L597.2,408.88 L597.41,409.81 L597.76,410.86" fill="none" stroke="#1688a8" stroke-width="1.8" stroke-linecap="round" stroke-linejoin="round"/>
<path d="M695.9,360 L695.01,359.4 L694.3,359.13 L693.86,359.37 L693.69,360.13 L693.7,361.2 L693.7,362.26 L693.52,363 L693.08,363.23 L692.35,362.94 L691.46,362.34 L690.58,361.75 L689.87,361.49 L689.44,361.74 L689.28,362.51 L689.29,363.59 L689.29,364.65 L689.11,365.37 L688.65,365.58 L687.92,365.28 L687.03,364.68 L686.15,364.09 L685.44,363.84 L685.02,364.12 L684.87,364.9 L684.88,365.98 L684.87,367.03 L684.69,367.75 L684.22,367.94 L683.48,367.62 L682.59,367.01 L681.71,366.44 L681.02,366.2 L680.6,366.49 L680.46,367.28 L680.47,368.37 L680.46,369.42 L680.27,370.12 L679.79,370.29 L679.05,369.96 L678.15,369.35 L677.28,368.78 L676.59,368.56 L676.19,368.87 L676.05,369.67 L676.06,370.76 L676.05,371.8 L675.85,372.49 L675.36,372.65 L674.61,372.31 L673.72,371.69 L672.84,371.12 L672.17,370.92 L671.77,371.24 L671.64,372.06 L671.65,373.15 L671.64,374.19 L671.43,374.86 L670.94,375 L670.18,374.65 L669.28,374.03 L668.41,373.47 L667.74,373.28 L667.35,373.62 L667.23,374.45 L667.25,375.54 L667.23,376.57 L667.01,377.23 L666.51,377.35 L665.74,376.99 L664.84,376.37 L663.98,375.81 L663.31,375.64 L662.94,375.99 L662.82,376.83 L662.84,377.93 L662.81,378.95 L662.59,379.6 L662.08,379.71 L661.31,379.33 L660.41,378.7 L659.55,378.16 L658.61,378.24 L658.34,378.69 L658.43,379.55 L658.71,380.62 L658.92,381.61 L658.84,382.27 L658.35,382.48 L657.51,382.29 L656.48,381.89 L655.52,381.57 L654.86,381.57 L654.6,382.03 L654.7,382.9 L654.98,383.97 L655.18,384.96 L655.09,385.61 L654.6,385.81 L653.74,385.6 L652.71,385.2 L651.76,384.88 L651.11,384.9 L650.86,385.38 L650.97,386.25 L651.25,387.32 L651.45,388.3 L651.35,388.94 L650.84,389.13 L649.97,388.91 L648.94,388.51 L648,388.2 L647.36,388.23 L647.12,388.72 L647.24,389.61 L647.52,390.68 L647.71,391.65 L647.6,392.28 L647.08,392.45 L646.21,392.22 L645.18,391.82 L644.24,391.52 L643.61,391.56 L643.38,392.06 L643.51,392.96 L643.79,394.03 L643.98,395 L643.85,395.61 L643.32,395.77 L642.44,395.53 L641.41,395.13 L640.48,394.83 L639.86,394.89 L639.65,395.41 L639.78,396.31 L640.06,397.39 L640.24,398.34 L640.11,398.94 L639.56,399.09 L638.67,398.84 L637.64,398.47 L636.7,398.24 L636.09,398.35 L635.93,398.89 L636.13,399.8 L636.48,400.85 L636.71,401.79 L636.6,402.38 L636.05,402.55 L635.14,402.35 L634.08,402.01 L633.15,401.79 L632.56,401.91 L632.41,402.46 L632.61,403.37 L632.96,404.43 L633.19,405.36 L633.06,405.94 L632.5,406.09 L631.59,405.89 L630.53,405.55 L629.6,405.33 L629.03,405.47 L628.89,406.03 L629.1,406.95 L629.45,408.01 L629.67,408.93 L629.53,409.5 L628.96,409.64 L628.03,409.43 L626.98,409.09 L626.06,408.88 L625.49,409.03 L625.36,409.61 L625.59,410.53 L625.94,411.59 L626.14,412.5 L626,413.06 L625.41,413.19 L624.48,412.97 L623.42,412.62" fill="none" stroke="#1688a8" stroke-width="1.8" stroke-linecap="round" stroke-linejoin="round"/>
<path d="M623.8,417.7 L624.22,418.68 L624.68,419.3 L625.18,419.34 L625.72,418.79 L626.29,417.89 L626.87,417 L627.41,416.46 L627.91,416.5 L628.36,417.13 L628.79,418.11 L629.21,419.08 L629.67,419.7 L630.17,419.73 L630.71,419.18 L631.28,418.28 L631.86,417.39 L632.4,416.86 L632.9,416.91 L633.35,417.54 L633.78,418.52 L634.2,419.49 L634.65,420.1 L635.15,420.13 L635.7,419.57 L636.27,418.67 L636.85,417.78 L637.39,417.25 L637.89,417.31 L638.34,417.94 L638.77,418.93 L639.19,419.9 L639.64,420.5 L640.14,420.52 L640.69,419.96 L641.26,419.06 L641.84,418.17 L642.38,417.65 L642.88,417.71 L643.33,418.35 L643.75,419.33 L644.18,420.3 L644.63,420.9 L645.13,420.92 L645.68,420.35 L646.25,419.45 L646.83,418.56 L647.37,418.04 L647.87,418.11 L648.32,418.76 L648.74,419.74 L649.17,420.71 L649.62,421.3 L650.12,421.31 L650.67,420.74 L651.24,419.84 L651.82,418.95 L652.36,418.44 L653.79,419.08 L653.69,419.86 L653.33,420.88 L652.99,421.87 L652.93,422.62 L653.3,422.96 L654.09,422.91 L655.13,422.62 L656.15,422.36 L656.89,422.35 L657.2,422.75 L657.09,423.53 L656.73,424.55 L656.39,425.55 L656.33,426.29 L656.7,426.62 L657.5,426.57 L658.54,426.28 L659.56,426.02 L660.3,426.02 L660.6,426.42 L660.49,427.21 L660.13,428.22 L659.79,429.22 L659.73,429.95 L660.11,430.29 L660.91,430.23 L661.95,429.94 L662.97,429.68 L663.7,429.68 L664,430.09 L663.89,430.88 L663.53,431.9 L663.19,432.89 L663.14,433.62 L663.52,433.95 L664.32,433.89 L665.36,433.61 L666.38,433.35 L667.11,433.35 L667.41,433.76 L667.29,434.55 L666.92,435.57 L666.59,436.57 L666.54,437.29 L666.93,437.62 L667.73,437.55 L668.78,437.27 L669.79,437.01 L670.52,437.02 L669.72,436.7 L670.26,437.29 L670.83,438.22 L671.4,439.1 L671.93,439.58 L672.43,439.48 L672.88,438.81 L673.31,437.81 L673.75,436.86 L674.21,436.31 L674.71,436.34 L675.26,436.95 L675.82,437.87 L676.39,438.75 L676.93,439.23 L677.42,439.12 L677.87,438.44 L678.3,437.44 L678.74,436.5 L679.2,435.95 L679.7,435.99 L680.25,436.6 L680.82,437.52 L681.38,438.4 L681.92,438.87 L682.41,438.76 L682.86,438.08 L683.29,437.08 L683.73,436.13 L684.19,435.59 L684.7,435.64 L685.24,436.25 L685.81,437.18 L686.37,438.05" fill="none" stroke="#1688a8" stroke-width="1.8" stroke-linecap="round" stroke-linejoin="round"/>
<path d="M599.8,429.8 L599.49,430.83 L599.43,431.59 L599.8,431.94 L600.58,431.87 L601.61,431.55 L602.63,431.25 L603.38,431.21 L603.71,431.59 L603.63,432.39 L603.31,433.42 L603.01,434.44 L602.98,435.17 L603.38,435.48 L604.19,435.39 L605.24,435.06 L606.24,434.76 L606.96,434.76 L607.26,435.18 L607.14,436 L606.81,437.05 L606.53,438.05 L606.53,438.75 L606.97,439.03 L607.81,438.9 L608.86,438.57 L609.85,438.29 L610.54,438.31 L610.8,438.77 L610.66,439.62 L610.32,440.67 L610.05,441.65 L610.09,442.33 L610.56,442.56 L611.43,442.41 L612.48,442.07 L613.46,441.81 L614.11,441.87 L614.33,442.36 L614.17,443.24 L613.83,444.29 L613.43,445.16 L613.41,445.8 L613.89,446.08 L614.79,446.03 L615.89,445.83 L616.87,445.73 L617.47,445.91 L617.58,446.46 L617.27,447.32 L616.78,448.32 L616.41,449.23 L616.43,449.84 L616.95,450.08 L617.88,450.01 L618.98,449.82 L619.94,449.73 L620.5,449.94 L620.57,450.52 L620.23,451.4 L619.74,452.4 L619.39,453.29 L619.46,453.87 L620.01,454.09 L620.97,454 L622.07,453.8 L623,453.73 L623.53,453.97 L623.55,454.58 L623.19,455.48 L622.7,456.48 L622.38,457.35 L622.48,457.91 L623.08,458.09 L624.06,457.98 L625.15,457.79 L626.06,457.74 L626.55,458.01 L626.54,458.65 L626.15,459.56 L625.66,460.56 L625.37,461.41 L625.51,461.93 L626.15,462.09 L627.15,461.97 L628.24,461.78 L629.12,461.75 L629.57,462.05 L629.52,462.71" fill="none" stroke="#1688a8" stroke-width="1.8" stroke-linecap="round" stroke-linejoin="round"/>
<path d="M575.7,431 L576.88,431.74 L577.76,432.08 L578.15,431.77 L578.07,430.83 L577.7,429.49 L577.33,428.15 L577.25,427.22 L577.67,426.93 L578.56,427.29 L579.74,428.03 L580.91,428.76 L581.78,429.09 L582.16,428.76 L582.07,427.8 L581.69,426.46 L581.32,425.13 L581.26,424.21 L581.69,423.94 L582.59,424.31 L583.78,425.06 L584.94,425.78 L585.8,426.1 L586.17,425.76 L586.07,424.78 L585.69,423.43 L585.32,422.1 L585.28,421.2 L585.71,420.95 L586.63,421.33 L587.81,422.09 L588.98,422.81 L589.82,423.1 L590.18,422.75 L590.07,421.76 L589.68,420.4 L589.32,419.08 L589.29,418.19 L589.74,417.96 L590.66,418.36 L591.85,419.12 L593.01,419.83 L593.85,420.11 L594.19,419.73 L594.07,418.73 L593.68,417.37 L593.32,416.06 L593.3,415.19 L593.76,414.97 L594.69,415.38 L595.89,416.14 L597.04,416.85 L597.87,417.12 L598.2,416.72 L598.07,415.71 L597.67,414.34 L597.32,413.04 L597.31,412.18 L597.79,411.98 L598.73,412.41 L599.93,413.17 L600.66,414.29 L601.32,414.82 L601.77,414.56 L602.02,413.55 L602.16,412.13 L602.33,410.8 L602.64,410.02 L603.16,410.04 L603.88,410.8 L604.71,411.96 L605.51,413.03 L606.17,413.54 L606.61,413.26 L606.86,412.24 L607,410.81 L607.17,409.49 L607.48,408.73 L608.01,408.77 L608.73,409.54 L609.56,410.71 L610.36,411.77 L611.01,412.27 L611.45,411.96 L611.69,410.92 L611.83,409.49 L612,408.18 L612.33,407.44 L612.86,407.5 L613.59,408.29 L614.42,409.46 L615.21,410.51 L615.86,410.99 L616.29,410.66 L616.53,409.6 L616.67,408.18 L616.84,406.87 L617.17,406.15 L617.71,406.23 L618.44,407.03 L619.27,408.21 L620.07,409.25 L620.71,409.71 L621.13,409.36 L621.37,408.29 L621.51,406.86 L621.68,405.56 L622.01,404.86 L622.56,404.96 L623.3,405.78 L624.13,406.96 L624.92,407.99 L625.55,408.43 L625.97,408.06 L626.21,406.97 L626.37,405.55 L626.61,404.27 L626.98,403.6 L627.53,403.76 L628.22,404.63 L628.99,405.85 L629.73,406.91 L630.34,407.36 L630.77,407 L631.05,405.91 L631.27,404.48 L631.51,403.22 L631.89,402.57 L632.44,402.74 L633.14,403.63 L633.91,404.85 L634.64,405.9 L635.24,406.34 L635.67,405.95 L635.95,404.85 L636.16,403.41 L636.41,402.16 L636.79,401.54 L637.35,401.73 L638.05,402.63 L638.82,403.86 L639.55,404.9 L640.15,405.31 L640.57,404.9 L640.85,403.78 L641.06,402.35 L641.32,401.11 L641.7,400.5 L642.26,400.72 L642.96,401.63 L643.73,402.86 L644.46,403.89 L645.05,404.28 L645.48,403.85 L645.75,402.72 L645.96,401.29 L646.22,400.06 L646.6,399.47 L647.17,399.71 L647.87,400.64 L648.65,401.87 L649.37,402.88 L649.96,403.25 L650.38,402.8" fill="none" stroke="#555" stroke-width="1.8" stroke-linecap="round" stroke-linejoin="round"/>
<path d="M596,420 L596.61,421.13 L597.17,421.81 L597.67,421.75 L598.1,420.97 L598.5,419.75 L598.89,418.53 L599.33,417.78 L599.83,417.76 L600.4,418.46 L601,419.6 L601.61,420.72 L602.17,421.37 L602.67,421.28 L603.1,420.48 L603.49,419.24 L603.89,418.04 L604.33,417.31 L604.83,417.32 L605.4,418.05 L606.01,419.19 L606.61,420.3 L607.18,420.93 L607.67,420.81 L608.1,419.98 L608.49,418.73 L608.88,417.54 L609.32,416.84 L609.83,416.88 L610.4,417.64 L611.01,418.79 L611.62,419.89 L612.18,420.48 L612.67,420.33 L613.09,419.48 L613.48,418.23 L613.88,417.05 L614.32,416.37 L614.83,416.45 L615.41,417.23 L616.02,418.39 L616.62,419.47 L617.18,420.04 L617.66,419.86 L618.09,418.98" fill="none" stroke="#777" stroke-width="1.6" stroke-linecap="round" stroke-linejoin="round"/>
<circle cx="573.3" cy="340.9" r="7" fill="#c4c4c4" stroke="#aaa" stroke-width="0.8"/>
<circle cx="574.8" cy="340.4" r="2" fill="#fff"/>
<circle cx="607" cy="356.5" r="7" fill="#c4c4c4" stroke="#aaa" stroke-width="0.8"/>
<circle cx="608.5" cy="356" r="2" fill="#fff"/>
<circle cx="597.4" cy="370.9" r="7" fill="#c4c4c4" stroke="#aaa" stroke-width="0.8"/>
<circle cx="598.9" cy="370.4" r="2" fill="#fff"/>
<circle cx="617.8" cy="376.9" r="7" fill="#c4c4c4" stroke="#aaa" stroke-width="0.8"/>
<circle cx="619.3" cy="376.4" r="2" fill="#fff"/>
<circle cx="669.5" cy="361.3" r="7" fill="#c4c4c4" stroke="#aaa" stroke-width="0.8"/>
<circle cx="671" cy="360.8" r="2" fill="#fff"/>
<circle cx="687.5" cy="369.7" r="7" fill="#c4c4c4" stroke="#aaa" stroke-width="0.8"/>
<circle cx="689" cy="369.2" r="2" fill="#fff"/>
<circle cx="641.8" cy="387.7" r="7" fill="#c4c4c4" stroke="#aaa" stroke-width="0.8"/>
<circle cx="643.3" cy="387.2" r="2" fill="#fff"/>
<circle cx="659.8" cy="391.3" r="7" fill="#c4c4c4" stroke="#aaa" stroke-width="0.8"/>
<circle cx="661.3" cy="390.8" r="2" fill="#fff"/>
<circle cx="646.6" cy="410.5" r="7" fill="#c4c4c4" stroke="#aaa" stroke-width="0.8"/>
<circle cx="648.1" cy="410" r="2" fill="#fff"/>
<circle cx="671.8" cy="429.8" r="7" fill="#c4c4c4" stroke="#aaa" stroke-width="0.8"/>
<circle cx="673.3" cy="429.3" r="2" fill="#fff"/>
<circle cx="598.6" cy="440.6" r="7" fill="#c4c4c4" stroke="#aaa" stroke-width="0.8"/>
<circle cx="600.1" cy="440.1" r="2" fill="#fff"/>
<circle cx="620.2" cy="439.4" r="7" fill="#c4c4c4" stroke="#aaa" stroke-width="0.8"/>
<circle cx="621.7" cy="438.9" r="2" fill="#fff"/>
<circle cx="621.4" cy="461" r="7" fill="#c4c4c4" stroke="#aaa" stroke-width="0.8"/>
<circle cx="622.9" cy="460.5" r="2" fill="#fff"/>
<path d="M580,343 L580.7,342.8 L581.32,342.56 L581.79,342.26 L582.06,341.89 L582.12,341.43 L581.98,340.89 L581.7,340.3 L581.33,339.67 L580.97,339.04 L580.68,338.44 L580.55,337.9 L580.61,337.44 L580.88,337.07 L581.35,336.77 L581.97,336.54 L582.67,336.33 L583.37,336.13 L583.98,335.89 L584.45,335.6 L584.73,335.22 L584.79,334.76 L584.65,334.23 L584.37,333.63 L584,333" fill="none" stroke="#ff30c8" stroke-width="1.6" stroke-linecap="round" stroke-linejoin="round"/>
<path d="M604,350 L604.09,349.38 L604.13,348.84 L604.09,348.44 L603.94,348.21 L603.67,348.19 L603.3,348.34 L602.84,348.63 L602.33,349 L601.83,349.37 L601.37,349.66 L601,349.81 L600.73,349.79 L600.58,349.56 L600.54,349.16 L600.58,348.62 L600.67,348 L600.75,347.38 L600.8,346.84 L600.75,346.44 L600.61,346.21 L600.34,346.19 L599.96,346.34 L599.5,346.63 L599,347" fill="none" stroke="#ff30c8" stroke-width="1.6" stroke-linecap="round" stroke-linejoin="round"/>
<path d="M592,366 L592,365.38 L591.98,364.85 L591.89,364.46 L591.72,364.27 L591.47,364.3 L591.14,364.52 L590.75,364.88 L590.33,365.33 L589.91,365.78 L589.52,366.15 L589.19,366.37 L588.94,366.39 L588.78,366.2 L588.69,365.82 L588.66,365.28 L588.67,364.67 L588.67,364.05 L588.64,363.52 L588.56,363.13 L588.39,362.94 L588.14,362.96 L587.81,363.18 L587.42,363.55 L587,364" fill="none" stroke="#ff30c8" stroke-width="1.6" stroke-linecap="round" stroke-linejoin="round"/>
<path d="M620,371 L620.4,370.48 L620.72,370 L620.9,369.58 L620.88,369.24 L620.65,369 L620.22,368.83 L619.65,368.73 L619,368.67 L618.35,368.6 L617.78,368.5 L617.35,368.34 L617.12,368.09 L617.1,367.75 L617.28,367.33 L617.6,366.85 L618,366.33 L618.4,365.82 L618.72,365.33 L618.9,364.91 L618.88,364.58 L618.65,364.33 L618.22,364.17 L617.65,364.07 L617,364" fill="none" stroke="#ff30c8" stroke-width="1.6" stroke-linecap="round" stroke-linejoin="round"/>
<path d="M675,358 L675.63,357.93 L676.17,357.84 L676.56,357.69 L676.76,357.47 L676.73,357.19 L676.51,356.84 L676.13,356.43 L675.67,356 L675.21,355.57 L674.83,355.16 L674.6,354.81 L674.58,354.53 L674.77,354.31 L675.16,354.16 L675.71,354.07 L676.33,354 L676.96,353.93 L677.51,353.84 L677.9,353.69 L678.09,353.47 L678.06,353.19 L677.84,352.84 L677.46,352.43 L677,352" fill="none" stroke="#ff30c8" stroke-width="1.6" stroke-linecap="round" stroke-linejoin="round"/>
<path d="M694,368 L693.99,368.64 L694.03,369.2 L694.13,369.61 L694.33,369.84 L694.63,369.86 L695.03,369.7 L695.49,369.39 L696,369 L696.51,368.61 L696.97,368.3 L697.37,368.14 L697.67,368.16 L697.87,368.39 L697.97,368.8 L698.01,369.36 L698,370 L697.99,370.64 L698.03,371.2 L698.13,371.61 L698.33,371.84 L698.63,371.86 L699.03,371.7 L699.49,371.39 L700,371" fill="none" stroke="#ff30c8" stroke-width="1.6" stroke-linecap="round" stroke-linejoin="round"/>
<path d="M648,383 L648.57,382.75 L649.06,382.5 L649.39,382.25 L649.5,382 L649.39,381.75 L649.06,381.5 L648.57,381.25 L648,381 L647.43,380.75 L646.94,380.5 L646.61,380.25 L646.5,380 L646.61,379.75 L646.94,379.5 L647.43,379.25 L648,379 L648.57,378.75 L649.06,378.5 L649.39,378.25 L649.5,378 L649.39,377.75 L649.06,377.5 L648.57,377.25 L648,377" fill="none" stroke="#ff30c8" stroke-width="1.6" stroke-linecap="round" stroke-linejoin="round"/>
<path d="M665,391 L665.13,391.64 L665.29,392.19 L665.49,392.58 L665.75,392.78 L666.08,392.75 L666.46,392.52 L666.88,392.14 L667.33,391.67 L667.78,391.2 L668.21,390.81 L668.59,390.58 L668.91,390.56 L669.17,390.75 L669.37,391.15 L669.53,391.7 L669.67,392.33 L669.8,392.97 L669.96,393.52 L670.16,393.92 L670.42,394.11 L670.74,394.08 L671.13,393.85 L671.55,393.47 L672,393" fill="none" stroke="#ff30c8" stroke-width="1.6" stroke-linecap="round" stroke-linejoin="round"/>
<path d="M653,408 L653.5,408.37 L653.96,408.66 L654.34,408.81 L654.61,408.79 L654.75,408.56 L654.8,408.16 L654.75,407.62 L654.67,407 L654.58,406.38 L654.54,405.84 L654.58,405.44 L654.73,405.21 L655,405.19 L655.37,405.34 L655.83,405.63 L656.33,406 L656.84,406.37 L657.3,406.66 L657.67,406.81 L657.94,406.79 L658.09,406.56 L658.13,406.16 L658.09,405.62 L658,405" fill="none" stroke="#ff30c8" stroke-width="1.6" stroke-linecap="round" stroke-linejoin="round"/>
<path d="M678,432 L677.85,432.61 L677.75,433.16 L677.76,433.58 L677.9,433.84 L678.18,433.92 L678.59,433.83 L679.1,433.61 L679.67,433.33 L680.23,433.05 L680.75,432.84 L681.16,432.75 L681.44,432.83 L681.57,433.08 L681.58,433.51 L681.48,434.05 L681.33,434.67 L681.18,435.28 L681.09,435.83 L681.09,436.25 L681.23,436.5 L681.51,436.58 L681.92,436.49 L682.43,436.28 L683,436" fill="none" stroke="#ff30c8" stroke-width="1.6" stroke-linecap="round" stroke-linejoin="round"/>
<path d="M602,446 L601.43,446.25 L600.94,446.5 L600.61,446.75 L600.5,447 L600.61,447.25 L600.94,447.5 L601.43,447.75 L602,448 L602.57,448.25 L603.06,448.5 L603.39,448.75 L603.5,449 L603.39,449.25 L603.06,449.5 L602.57,449.75 L602,450 L601.43,450.25 L600.94,450.5 L600.61,450.75 L600.5,451 L600.61,451.25 L600.94,451.5 L601.43,451.75 L602,452" fill="none" stroke="#ff30c8" stroke-width="1.6" stroke-linecap="round" stroke-linejoin="round"/>
<path d="M626,444 L625.99,444.64 L626.03,445.2 L626.13,445.61 L626.33,445.84 L626.63,445.86 L627.03,445.7 L627.49,445.39 L628,445 L628.51,444.61 L628.97,444.3 L629.37,444.14 L629.67,444.16 L629.87,444.39 L629.97,444.8 L630.01,445.36 L630,446 L629.99,446.64 L630.03,447.2 L630.13,447.61 L630.33,447.84 L630.63,447.86 L631.03,447.7 L631.49,447.39 L632,447" fill="none" stroke="#ff30c8" stroke-width="1.6" stroke-linecap="round" stroke-linejoin="round"/>
<path d="M625,466 L624.48,466.34 L624.04,466.67 L623.76,466.98 L623.69,467.25 L623.84,467.48 L624.2,467.67 L624.73,467.84 L625.33,468 L625.94,468.16 L626.46,468.33 L626.83,468.52 L626.98,468.75 L626.91,469.02 L626.63,469.33 L626.19,469.66 L625.67,470 L625.14,470.34 L624.7,470.67 L624.42,470.98 L624.35,471.25 L624.51,471.48 L624.87,471.67 L625.39,471.84 L626,472" fill="none" stroke="#ff30c8" stroke-width="1.6" stroke-linecap="round" stroke-linejoin="round"/>
<circle cx="585.3" cy="331.2" r="4.3" fill="#e0ffe0" stroke="#10ee10" stroke-width="1.8"/>
<circle cx="598.6" cy="344.5" r="4.3" fill="#e0ffe0" stroke="#10ee10" stroke-width="1.8"/>
<circle cx="584.9" cy="364.4" r="4.3" fill="#e0ffe0" stroke="#10ee10" stroke-width="1.8"/>
<circle cx="617.8" cy="361.3" r="4.3" fill="#e0ffe0" stroke="#10ee10" stroke-width="1.8"/>
<circle cx="677.9" cy="349.3" r="4.3" fill="#e0ffe0" stroke="#10ee10" stroke-width="1.8"/>
<circle cx="702.6" cy="372.1" r="4.3" fill="#e0ffe0" stroke="#10ee10" stroke-width="1.8"/>
<circle cx="647.8" cy="374" r="4.3" fill="#e0ffe0" stroke="#10ee10" stroke-width="1.8"/>
<circle cx="674.3" cy="394.9" r="4.3" fill="#e0ffe0" stroke="#10ee10" stroke-width="1.8"/>
<circle cx="659.8" cy="403.8" r="4.3" fill="#e0ffe0" stroke="#10ee10" stroke-width="1.8"/>
<circle cx="685.1" cy="437" r="4.3" fill="#e0ffe0" stroke="#10ee10" stroke-width="1.8"/>
<circle cx="633.9" cy="448.5" r="4.3" fill="#e0ffe0" stroke="#10ee10" stroke-width="1.8"/>
<circle cx="602.2" cy="455.7" r="4.3" fill="#e0ffe0" stroke="#10ee10" stroke-width="1.8"/>
<circle cx="625.7" cy="475.4" r="4.3" fill="#e0ffe0" stroke="#10ee10" stroke-width="1.8"/>
<path d="M537.5,432 C537,421 548,418 553,424 C557,430 560,436 566,433" fill="none" stroke="#555" stroke-width="4"/>
<path d="M486.6,465.9 C486.95,460.65 487.98,452.85 490.7,447.6 C493.42,442.35 498.17,437.28 502.9,434.4 C507.63,431.52 514.03,430.47 519.1,430.3 C524.17,430.13 529.23,431.37 533.3,433.4 C537.37,435.43 540.78,438.78 543.5,442.5 C546.22,446.22 548.42,451.12 549.6,455.7 C550.78,460.28 550.37,466.33 550.6,470 C550.83,473.67 549.82,475.67 551,477.7 C552.18,479.73 555.73,480.27 557.7,482.2 C559.67,484.13 561.78,487.1 562.8,489.3 C563.82,491.5 564.65,493.37 563.8,495.4 C562.95,497.43 561.58,499.87 557.7,501.5 C553.82,503.13 545.23,503.33 540.5,505.2 C535.77,507.07 532.53,512.13 529.3,512.7 C526.07,513.27 523.3,509.8 521.1,508.6 C518.9,507.4 518.63,506.68 516.1,505.5 C513.57,504.32 509.3,503.87 505.9,501.5 C502.5,499.13 498.58,495.03 495.7,491.3 C492.82,487.57 490.12,483.33 488.6,479.1 C487.08,474.87 486.25,471.15 486.6,465.9Z" fill="url(#cas)" stroke="#6a6a6a" stroke-width="1.5"/>
<g transform="translate(310.5,67.2)">
<path d="M255.4,429.7 L236,429.5 C229,425 224,416 221.5,405 C219.5,395 220,381 216,375.5 C212,371.5 206,374 206.5,382 C207,392 211,403 214.5,412 C212,417 205,414 197,408 C191,403 186,399.5 183.5,402.5 C181.5,406.5 189,412 197,417 C202,420 206,423 209,426" fill="none" stroke="#111" stroke-width="1.9"/>
<path d="M213.3,390 L217.3,412" fill="none" stroke="#444" stroke-width="2.6" stroke-dasharray="0.7 1.3"/>
<path d="M193,410.5 L205,419" fill="none" stroke="#444" stroke-width="2.6" stroke-dasharray="0.7 1.3"/>
<rect x="219.4" y="435.8" width="125.6" height="16.5" fill="#7a7a7a"/>
<rect x="227.6" y="428.5" width="5.4" height="27.8" fill="#4a4a4a"/>
<rect x="238.7" y="433" width="41" height="23.3" rx="4" fill="#eeeeee" stroke="#b0b0b0" stroke-width="1"/>
<circle cx="307.4" cy="443.5" r="10.3" fill="#fff" stroke="#444" stroke-width="2"/>
<path d="M345,427.4 L399.5,427.4 L409.5,443.5 L399.5,459.6 L345,459.6 Z" fill="#fff" stroke="#555" stroke-width="3"/>
<text transform="translate(353,453) scale(0.9259,1)" font-size="24" font-style="italic">fLuc</text>
</g>
<path d="M617.8,500 L617.8,484 L643,484" fill="none" stroke="#333" stroke-width="4.2"/>
<path d="M637,470.6 L673,485 L637,497 Z" fill="#333"/>
<text transform="translate(527.7,550) scale(0.8973,1)" font-size="28" font-weight="bold">1x[ab]</text>
</svg></body></html>
